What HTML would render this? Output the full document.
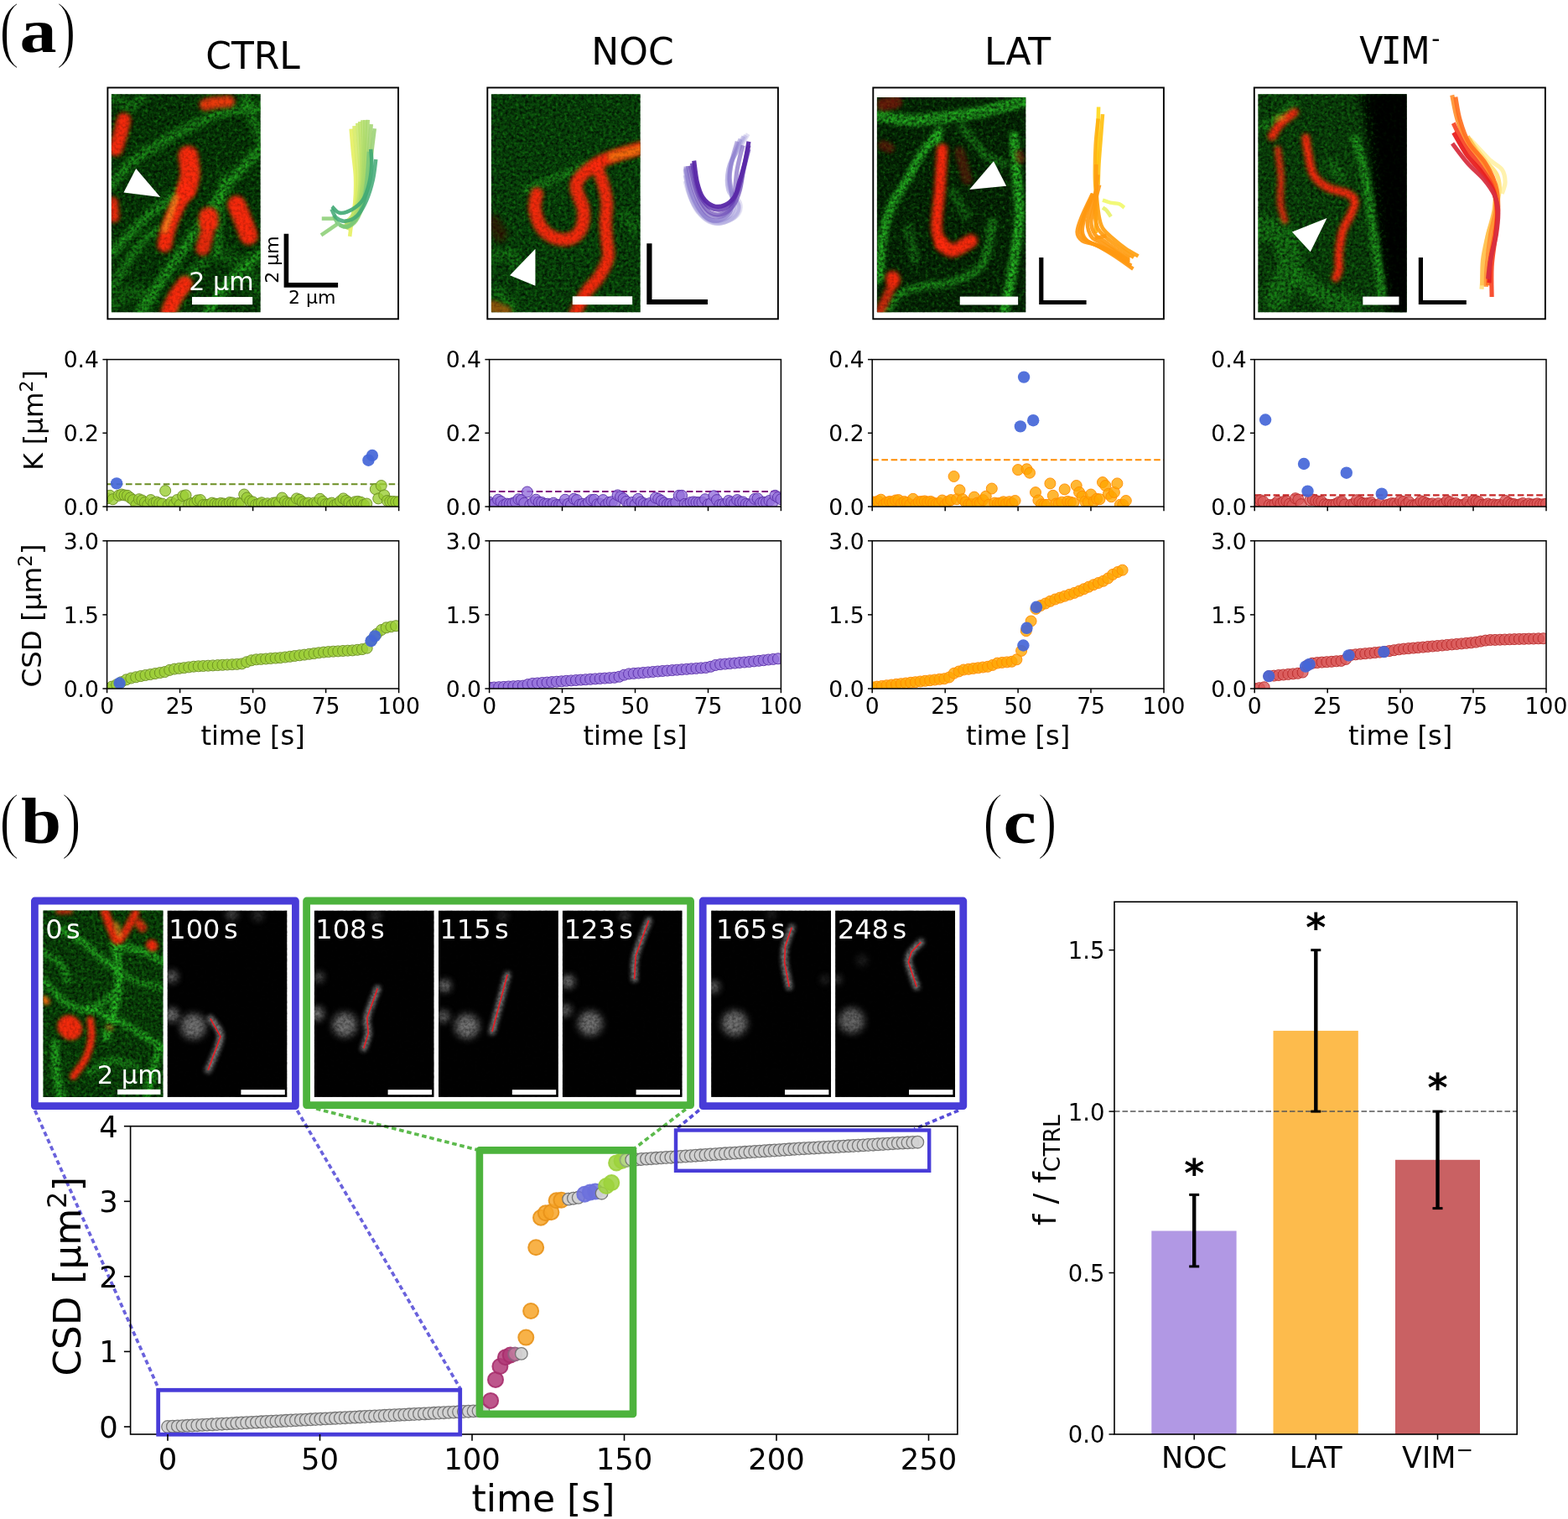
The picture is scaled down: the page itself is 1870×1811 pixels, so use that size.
<!DOCTYPE html>
<html lang="en"><head><meta charset="utf-8"><title>Figure</title>
<style>
html,body{margin:0;padding:0;background:#fff;}
body{width:1870px;height:1811px;overflow:hidden;}
svg{display:block;font-family:"DejaVu Sans", "Liberation Sans", sans-serif;}
</style></head><body>
<svg width="1870" height="1811" viewBox="0 0 1870 1811">
<rect width="1870" height="1811" fill="#fff"/>
<defs>
<filter id="bl1" filterUnits="userSpaceOnUse" x="-300" y="-300" width="1900" height="2500"><feGaussianBlur stdDeviation="16"/></filter>
<filter id="bl2" filterUnits="userSpaceOnUse" x="-300" y="-300" width="1900" height="2500"><feGaussianBlur stdDeviation="14"/></filter>
<filter id="bl3" filterUnits="userSpaceOnUse" x="-300" y="-300" width="1900" height="2500"><feGaussianBlur stdDeviation="22"/></filter>
<filter id="bl0" filterUnits="userSpaceOnUse" x="-300" y="-300" width="1900" height="2500"><feGaussianBlur stdDeviation="5"/></filter>
<filter id="nzD" x="0" y="0" width="100%" height="100%" color-interpolation-filters="sRGB">
<feTurbulence type="fractalNoise" baseFrequency="0.3" numOctaves="2" seed="11"/>
<feColorMatrix type="matrix" values="0 0 0 0 0  0 0 0 0 0  0 0 0 0 0  1.5 0 0 0 -0.5"/>
</filter>
<filter id="nzG" x="0" y="0" width="100%" height="100%" color-interpolation-filters="sRGB">
<feTurbulence type="fractalNoise" baseFrequency="0.26" numOctaves="2" seed="5"/>
<feColorMatrix type="matrix" values="0 0 0 0 0.16  0 0 0 0 0.8  0 0 0 0 0.12  0 2.4 0 0 -1.2"/>
</filter>
<filter id="nzW" x="0" y="0" width="100%" height="100%" color-interpolation-filters="sRGB">
<feTurbulence type="fractalNoise" baseFrequency="0.3" numOctaves="2" seed="23"/>
<feColorMatrix type="matrix" values="0 0 0 0 0  0 0 0 0 0  0 0 0 0 0  2.4 0 0 0 -0.95"/>
</filter>
<filter id="gbl3" filterUnits="userSpaceOnUse" x="0" y="1050" width="1200" height="300"><feGaussianBlur stdDeviation="2.6"/></filter>
<filter id="gbl" filterUnits="userSpaceOnUse" x="0" y="1050" width="1200" height="300"><feGaussianBlur stdDeviation="4"/></filter>
<filter id="nzWh" x="0" y="0" width="100%" height="100%" color-interpolation-filters="sRGB">
<feTurbulence type="fractalNoise" baseFrequency="0.6" numOctaves="2" seed="41"/>
<feColorMatrix type="matrix" values="0 0 0 0 0.6  0 0 0 0 0.6  0 0 0 0 0.6  0 2.2 0 0 -1.18"/>
</filter>
</defs>
<g font-family='"Liberation Serif", "DejaVu Serif", serif'>
<text transform="matrix(0.7412 0 0 0.8956 -1.34 64.39)" font-size="100" stroke="#fff" stroke-width="2.6">(</text>
<text transform="matrix(0.8813 0 0 0.7495 23.56 61.93)" font-size="100" font-weight="bold">a</text>
<text transform="matrix(0.7192 0 0 0.8956 66.94 64.39)" font-size="100" stroke="#fff" stroke-width="2.6">)</text>
<text transform="matrix(0.7412 0 0 0.8922 -1.34 1007.36)" font-size="100" stroke="#fff" stroke-width="2.6">(</text>
<text transform="matrix(0.8660 0 0 0.7800 24.90 1005.02)" font-size="100" font-weight="bold">b</text>
<text transform="matrix(0.7269 0 0 0.8922 73.12 1007.36)" font-size="100" stroke="#fff" stroke-width="2.6">)</text>
<text transform="matrix(0.7451 0 0 0.8922 1171.85 1007.36)" font-size="100" stroke="#fff" stroke-width="2.6">(</text>
<text transform="matrix(0.8883 0 0 0.7479 1196.59 1005.05)" font-size="100" font-weight="bold">c</text>
<text transform="matrix(0.7192 0 0 0.8922 1236.94 1007.36)" font-size="100" stroke="#fff" stroke-width="2.6">)</text>
</g>
<text x="301.50" y="82.20" font-size="44" text-anchor="middle" fill="#000">CTRL</text>
<text x="754.50" y="76.80" font-size="44" text-anchor="middle" fill="#000">NOC</text>
<text x="1213.50" y="76.80" font-size="44" text-anchor="middle" fill="#000">LAT</text>
<text transform="translate(1621.3 75.5) scale(0.93 1)" font-size="44" text-anchor="start">V<tspan font-family='"DejaVu Sans Mono", monospace' dx="-2.5">I</tspan><tspan dx="-1.5">M</tspan><tspan dy="-19.5" font-size="30" dx="2">-</tspan></text>
<rect x="128.4" y="104.5" width="346.6" height="275.8" fill="#fff" stroke="#000" stroke-width="1.9"/>
<rect x="581.3" y="104.5" width="346.6" height="275.8" fill="#fff" stroke="#000" stroke-width="1.9"/>
<rect x="1041.3" y="104.5" width="346.6" height="275.8" fill="#fff" stroke="#000" stroke-width="1.9"/>
<rect x="1495.8" y="104.5" width="347.1" height="275.8" fill="#fff" stroke="#000" stroke-width="1.9"/>
<clipPath id="mca0"><rect x="132.9" y="112.2" width="177.7" height="260.1"/></clipPath>
<g clip-path="url(#mca0)">
<rect x="131.9" y="111.2" width="179.7" height="262.1" fill="#084008"/>
<g transform="translate(125 105) scale(0.15186)" fill="none" stroke-linecap="round" stroke-linejoin="round">

<path d="M52,1300 C98.3,1251.7 245.3,1088.3 330,1010 C414.7,931.7 498.3,891.7 560,830 C621.7,768.3 676.7,671.7 700,640" stroke="#25b020" stroke-width="70" opacity="0.85" filter="url(#bl3)"/>
<path d="M270,1770 C311.7,1708.3 448.3,1503.3 520,1400 C591.7,1296.7 636.7,1241.7 700,1150 C763.3,1058.3 848.3,925.0 900,850 C951.7,775.0 955.0,763.3 1010,700 C1065.0,636.7 1193.3,508.3 1230,470" stroke="#25b020" stroke-width="75" opacity="0.9" filter="url(#bl3)"/>
<path d="M1230,150 C1175.0,158.3 1001.7,170.0 900,200 C798.3,230.0 730.0,270.0 620,330 C510.0,390.0 334.7,488.3 240,560 C145.3,631.7 83.3,726.7 52,760" stroke="#25b020" stroke-width="75" opacity="0.75" filter="url(#bl3)"/>
<path d="M1230,1290 C1191.7,1325.0 1071.7,1420.0 1000,1500 C928.3,1580.0 833.3,1725.0 800,1770" stroke="#25b020" stroke-width="75" opacity="0.9" filter="url(#bl3)"/>
<path d="M60,1560 C93.3,1508.3 200.0,1326.7 260,1250 C320.0,1173.3 393.3,1125.0 420,1100" stroke="#25b020" stroke-width="65" opacity="0.7" filter="url(#bl3)"/>
<path d="M940,700 C933.3,750.0 910.0,900.0 900,1000 C890.0,1100.0 883.3,1250.0 880,1300" stroke="#25b020" stroke-width="65" opacity="0.65" filter="url(#bl3)"/>
<path d="M1100,60 C1113.3,100.0 1158.3,240.0 1180,300 C1201.7,360.0 1221.7,400.0 1230,420" stroke="#25b020" stroke-width="75" opacity="0.6" filter="url(#bl3)"/>
<path d="M60,60 C83.3,75.0 160.0,150.0 200,150 C240.0,150.0 283.3,75.0 300,60" stroke="#25b020" stroke-width="70" opacity="0.55" filter="url(#bl3)"/>
<path d="M540,1770 C556.7,1725.0 596.7,1570.0 640,1500 C683.3,1430.0 773.3,1375.0 800,1350" stroke="#25b020" stroke-width="65" opacity="0.6" filter="url(#bl3)"/>
<path d="M60,1700 C83.3,1683.3 151.7,1608.3 200,1600 C248.3,1591.7 325.0,1641.7 350,1650" stroke="#25b020" stroke-width="120" opacity="0.35" filter="url(#bl3)"/>
<path d="M900,1300 C933.3,1316.7 1050.0,1350.0 1100,1400 C1150.0,1450.0 1183.3,1566.7 1200,1600" stroke="#25b020" stroke-width="120" opacity="0.3" filter="url(#bl3)"/>
</g>
<rect x="132.9" y="112.2" width="177.7" height="260.1" filter="url(#nzD)"/>
<rect x="132.9" y="112.2" width="177.7" height="260.1" filter="url(#nzG)" opacity="0.4"/>
<g transform="translate(125 105) scale(0.15186)" fill="none" stroke-linecap="round" stroke-linejoin="round">
<path d="M790,130 C805.0,127.0 849.2,116.2 880,112 C910.8,107.8 959.2,106.2 975,105" stroke="#fa3a10" stroke-width="92" opacity="0.92" filter="url(#bl1)"/>
<path d="M150,250 C145.0,270.0 130.8,331.7 120,370 C109.2,408.3 90.8,461.7 85,480" stroke="#ff2a08" stroke-width="110" opacity="0.95" filter="url(#bl1)"/>
<path d="M655,530 C657.5,555.0 672.5,635.0 670,680 C667.5,725.0 645.0,780.0 640,800" stroke="#ff2a08" stroke-width="155" opacity="0.97" filter="url(#bl1)"/>
<path d="M640,800 C626.7,825.0 583.3,900.0 560,950 C536.7,1000.0 515.0,1053.3 500,1100 C485.0,1146.7 475.0,1208.3 470,1230" stroke="#ff2a08" stroke-width="115" opacity="0.97" filter="url(#bl1)"/>
<path d="M560,860 L470,1120" stroke="#f0a020" stroke-width="40" opacity="0.8" filter="url(#bl1)"/>
<path d="M60,900 L70,1010" stroke="#ff2a08" stroke-width="90" opacity="0.9" filter="url(#bl1)"/>
<path d="M815,1010 L815,1060" stroke="#ff2a08" stroke-width="150" opacity="0.97" filter="url(#bl1)"/>
<path d="M800,1150 L770,1260" stroke="#ff2a08" stroke-width="110" opacity="0.9" filter="url(#bl1)"/>
<path d="M1035,915 C1044.2,937.5 1074.2,1009.2 1090,1050 C1105.8,1090.8 1123.3,1141.7 1130,1160" stroke="#ff2a08" stroke-width="142" opacity="0.97" filter="url(#bl1)"/>
<path d="M630,1535 C617.5,1552.5 576.7,1602.5 555,1640 C533.3,1677.5 509.2,1740.0 500,1760" stroke="#ff2a08" stroke-width="120" opacity="0.97" filter="url(#bl1)"/>
</g>
<rect x="132.9" y="112.2" width="177.7" height="260.1" filter="url(#nzW)" opacity="0.22"/>
</g>
<g transform="translate(125 105) scale(0.15186)" fill="#fff">
<polygon points="245,632 148,820 436,856"/>
<rect x="685" y="1640" width="475" height="60"/>
</g>
<text x="264" y="345.7" font-size="30.2" fill="#fff" text-anchor="middle">2 µm</text>
<clipPath id="mca1"><rect x="585.9" y="112.2" width="177.7" height="260.1"/></clipPath>
<g clip-path="url(#mca1)">
<rect x="584.9" y="111.2" width="179.7" height="262.1" fill="#0a4c0c"/>
<g transform="translate(578 105) scale(0.15186)" fill="none" stroke-linecap="round" stroke-linejoin="round">

<path d="M330,800 C355.0,790.0 428.3,761.7 480,740 C531.7,718.3 586.7,693.3 640,670 C693.3,646.7 773.3,611.7 800,600" stroke="#25b020" stroke-width="70" opacity="0.55" filter="url(#bl2)"/>
<path d="M60,1330 C83.3,1325.0 166.7,1288.3 200,1300 C233.3,1311.7 250.0,1383.3 260,1400" stroke="#25b020" stroke-width="90" opacity="0.4" filter="url(#bl3)"/>
<path d="M1100,1000 L1180,1100" stroke="#25b020" stroke-width="90" opacity="0.35" filter="url(#bl3)"/>
<path d="M100,1600 L220,1720" stroke="#25b020" stroke-width="90" opacity="0.45" filter="url(#bl3)"/>
</g>
<rect x="585.9" y="112.2" width="177.7" height="260.1" filter="url(#nzD)"/>
<rect x="585.9" y="112.2" width="177.7" height="260.1" filter="url(#nzG)" opacity="0.4"/>
<g transform="translate(578 105) scale(0.15186)" fill="none" stroke-linecap="round" stroke-linejoin="round">
<path d="M410,830 C407.5,850.0 388.3,905.0 395,950 C401.7,995.0 422.5,1061.7 450,1100 C477.5,1138.3 521.7,1166.7 560,1180 C598.3,1193.3 646.7,1193.3 680,1180 C713.3,1166.7 744.2,1138.3 760,1100 C775.8,1061.7 781.7,1001.7 775,950 C768.3,898.3 724.2,831.7 720,790 C715.8,748.3 725.0,731.7 750,700 C775.0,668.3 828.3,626.7 870,600 C911.7,573.3 940.0,561.7 1000,540 C1060.0,518.3 1191.7,481.7 1230,470" stroke="#ff2a08" stroke-width="100" opacity="0.95" filter="url(#bl1)"/>
<path d="M880,620 C888.3,641.7 916.7,703.3 930,750 C943.3,796.7 956.7,850.0 960,900 C963.3,950.0 950.0,1000.0 950,1050 C950.0,1100.0 956.7,1153.3 960,1200 C963.3,1246.7 980.0,1283.3 970,1330 C960.0,1376.7 928.3,1435.0 900,1480 C871.7,1525.0 831.7,1551.7 800,1600 C768.3,1648.3 725.0,1741.7 710,1770" stroke="#ff2a08" stroke-width="95" opacity="0.95" filter="url(#bl1)"/>
<path d="M1000,540 L1230,480" stroke="#f0a010" stroke-width="70" opacity="0.55" filter="url(#bl1)"/>
<path d="M60,1720 L160,1760" stroke="#c06010" stroke-width="110" opacity="0.7" filter="url(#bl2)"/>
<path d="M60,1050 L120,1150" stroke="#401000" stroke-width="120" opacity="0.6" filter="url(#bl3)"/>
</g>
<rect x="585.9" y="112.2" width="177.7" height="260.1" filter="url(#nzW)" opacity="0.22"/>
</g>
<g transform="translate(578 105) scale(0.15186)" fill="#fff">
<polygon points="398,1262 198,1470 398,1552"/>
<rect x="690" y="1635" width="470" height="65"/>
</g>
<clipPath id="mca2"><rect x="1045.9" y="115.9" width="177.4" height="256.4"/></clipPath>
<g clip-path="url(#mca2)">
<rect x="1044.9" y="114.9" width="179.4" height="258.4" fill="#062c06"/>
<g transform="translate(1038 105) scale(0.15186)" fill="none" stroke-linecap="round" stroke-linejoin="round">

<path d="M520,370 C500.0,395.0 436.7,465.0 400,520 C363.3,575.0 340.0,630.0 300,700 C260.0,770.0 194.2,856.7 160,940 C125.8,1023.3 110.0,1106.7 95,1200 C80.0,1293.3 74.2,1450.0 70,1500" stroke="#2cc428" stroke-width="70" opacity="0.9" filter="url(#bl2)"/>
<path d="M52,215 C85.0,220.8 192.0,244.2 250,250 C308.0,255.8 333.3,255.0 400,250 C466.7,245.0 566.7,231.7 650,220 C733.3,208.3 803.3,200.0 900,180 C996.7,160.0 1175.0,113.3 1230,100" stroke="#2cc428" stroke-width="95" opacity="0.8" filter="url(#bl2)"/>
<path d="M1130,380 C1133.3,433.3 1143.3,596.7 1150,700 C1156.7,803.3 1175.0,883.3 1170,1000 C1165.0,1116.7 1140.0,1271.7 1120,1400 C1100.0,1528.3 1061.7,1708.3 1050,1770" stroke="#2cc428" stroke-width="75" opacity="0.95" filter="url(#bl2)"/>
<path d="M960,1050 C946.7,1105.0 931.7,1301.7 880,1380 C828.3,1458.3 730.0,1490.0 650,1520 C570.0,1550.0 470.0,1543.3 400,1560 C330.0,1576.7 276.7,1585.0 230,1620 C183.3,1655.0 138.3,1745.0 120,1770" stroke="#2cc428" stroke-width="70" opacity="0.6" filter="url(#bl2)"/>
<path d="M540,330 L520,420" stroke="#2cc428" stroke-width="70" opacity="0.8" filter="url(#bl2)"/>
<path d="M720,300 C750.0,336.7 845.0,470.0 900,520 C955.0,570.0 1025.0,586.7 1050,600" stroke="#2cc428" stroke-width="70" opacity="0.45" filter="url(#bl2)"/>
<path d="M650,820 L750,1000" stroke="#2cc428" stroke-width="80" opacity="0.35" filter="url(#bl2)"/>
<path d="M300,1100 L350,1350" stroke="#2cc428" stroke-width="80" opacity="0.35" filter="url(#bl2)"/>
</g>
<rect x="1045.9" y="115.9" width="177.4" height="256.4" filter="url(#nzD)"/>
<rect x="1045.9" y="115.9" width="177.4" height="256.4" filter="url(#nzG)" opacity="0.4"/>
<g transform="translate(1038 105) scale(0.15186)" fill="none" stroke-linecap="round" stroke-linejoin="round">
<path d="M565,480 C561.7,533.3 552.5,696.7 545,800 C537.5,903.3 517.5,1029.2 520,1100 C522.5,1170.8 553.3,1204.2 560,1225" stroke="#ff2a08" stroke-width="85" opacity="0.97" filter="url(#bl1)"/>
<path d="M560,1225 C575.0,1233.3 611.7,1279.2 650,1275 C688.3,1270.8 766.7,1212.5 790,1200" stroke="#ff2a08" stroke-width="105" opacity="0.97" filter="url(#bl1)"/>
<path d="M175,1490 L180,1510" stroke="#ff2a08" stroke-width="110" opacity="0.95" filter="url(#bl1)"/>
<path d="M170,1550 C160.0,1571.7 126.7,1643.3 110,1680 C93.3,1716.7 76.7,1755.0 70,1770" stroke="#ff2a08" stroke-width="70" opacity="0.8" filter="url(#bl1)"/>
<path d="M100,130 L200,110" stroke="#a01808" stroke-width="100" opacity="0.6" filter="url(#bl2)"/>
<path d="M100,450 L150,470" stroke="#a01808" stroke-width="80" opacity="0.45" filter="url(#bl2)"/>
<path d="M700,500 L760,720" stroke="#a01808" stroke-width="80" opacity="0.4" filter="url(#bl2)"/>
<path d="M1170,520 L1180,560" stroke="#a01808" stroke-width="70" opacity="0.5" filter="url(#bl2)"/>
</g>
<rect x="1045.9" y="115.9" width="177.4" height="256.4" filter="url(#nzW)" opacity="0.22"/>
</g>
<g transform="translate(1038 105) scale(0.15186)" fill="#fff">
<polygon points="968,575 778,797 1068,768"/>
<rect x="703" y="1637" width="457" height="65"/>
</g>
<clipPath id="mca3"><rect x="1500.4" y="112.2" width="177.2" height="260.1"/></clipPath>
<g clip-path="url(#mca3)">
<rect x="1499.4" y="111.2" width="179.2" height="262.1" fill="#0c4a0c"/>
<g transform="translate(1492 105) scale(0.15186)" fill="none" stroke-linecap="round" stroke-linejoin="round">
<path d="M850,40 L920,500 L960,1000 L1010,1400 L1060,1770 L1240,1770 L1240,40 Z" fill="#020a02" stroke="none" filter="url(#bl3)"/>
<path d="M820,400 C833.3,450.0 878.3,591.7 900,700 C921.7,808.3 933.3,933.3 950,1050 C966.7,1166.7 986.7,1305.0 1000,1400 C1013.3,1495.0 1025.0,1583.3 1030,1620" stroke="#2cc428" stroke-width="70" opacity="0.7" filter="url(#bl2)"/>
<path d="M60,1100 C91.7,1108.3 210.0,1100.0 250,1150 C290.0,1200.0 308.3,1316.7 300,1400 C291.7,1483.3 216.7,1608.3 200,1650" stroke="#2cc428" stroke-width="200" opacity="0.4" filter="url(#bl3)"/>
<path d="M400,1500 C433.3,1525.0 533.3,1616.7 600,1650 C666.7,1683.3 766.7,1691.7 800,1700" stroke="#2cc428" stroke-width="150" opacity="0.4" filter="url(#bl3)"/>
<path d="M100,300 C116.7,291.7 161.7,278.3 200,250 C238.3,221.7 308.3,150.0 330,130" stroke="#2cc428" stroke-width="70" opacity="0.5" filter="url(#bl2)"/>
<path d="M640,600 L700,700" stroke="#2cc428" stroke-width="100" opacity="0.3" filter="url(#bl3)"/>
</g>
<rect x="1500.4" y="112.2" width="177.2" height="260.1" filter="url(#nzD)"/>
<rect x="1500.4" y="112.2" width="177.2" height="260.1" filter="url(#nzG)" opacity="0.4"/>
<g transform="translate(1492 105) scale(0.15186)" fill="none" stroke-linecap="round" stroke-linejoin="round">
<path d="M340,190 C321.7,205.0 259.2,248.3 230,280 C200.8,311.7 175.8,363.3 165,380" stroke="#ff2a08" stroke-width="65" opacity="0.95" filter="url(#bl1)"/>
<path d="M200,240 L260,230" stroke="#f0c020" stroke-width="35" opacity="0.6" filter="url(#bl1)"/>
<path d="M210,480 C214.2,516.7 231.7,630.0 235,700 C238.3,770.0 225.0,843.3 230,900 C235.0,956.7 259.2,1016.7 265,1040" stroke="#ff2a08" stroke-width="50" opacity="0.85" filter="url(#bl1)"/>
<path d="M430,390 C433.3,411.7 440.0,471.7 450,520 C460.0,568.3 465.0,636.7 490,680 C515.0,723.3 555.0,755.0 600,780 C645.0,805.0 724.2,811.7 760,830 C795.8,848.3 811.7,861.7 815,890 C818.3,918.3 795.8,961.7 780,1000 C764.2,1038.3 735.0,1070.0 720,1120 C705.0,1170.0 695.0,1250.0 690,1300 C685.0,1350.0 694.2,1388.3 690,1420 C685.8,1451.7 669.2,1478.3 665,1490" stroke="#ff2a08" stroke-width="62" opacity="0.97" filter="url(#bl1)"/>
</g>
<rect x="1500.4" y="112.2" width="177.2" height="260.1" filter="url(#nzW)" opacity="0.22"/>
<g transform="translate(1492 105) scale(0.15186)" fill="none" stroke-linecap="round" stroke-linejoin="round">
<path d="M930,40 L985,500 L1030,1000 L1075,1400 L1120,1770 L1260,1770 L1260,40 Z" fill="#010301" stroke="none" opacity="0.84" filter="url(#bl3)"/>
</g>
</g>
<g transform="translate(1492 105) scale(0.15186)" fill="#fff">
<polygon points="596,1020 322,1130 466,1285"/>
<rect x="878" y="1637" width="284" height="65"/>
</g>
<g transform="translate(320 105) scale(0.15180)" fill="none" stroke-width="30" stroke-linejoin="round">
<path d="M650,320 C652.5,350.0 659.2,436.7 665,500 C670.8,563.3 682.5,633.3 685,700 C687.5,766.7 685.0,841.7 680,900 C675.0,958.3 661.7,1005.8 655,1050 C648.3,1094.2 642.5,1145.8 640,1165" stroke="#e6f060" stroke-opacity="0.90"/>
<path d="M675.0,297.5 C676.0,310.1 678.8,348.0 680.7,373.2 C682.6,398.4 684.4,423.6 686.4,448.8 C688.4,474.0 690.6,499.2 692.5,524.4 C694.4,549.6 696.0,574.9 697.7,600.1 C699.4,625.3 701.9,650.5 702.5,675.7 C703.1,700.9 702.4,726.2 701.5,751.5 C700.6,776.8 698.9,802.0 697.0,827.2 C695.1,852.4 694.2,877.9 690.0,902.7 C685.8,927.5 678.4,951.8 671.9,976.0 C665.4,1000.2 659.9,1025.2 651.3,1047.9 C642.6,1070.7 625.2,1101.7 620.0,1112.5" stroke="#d7eb64" stroke-opacity="0.88"/>
<path d="M700,275 C702.5,312.5 711.3,429.2 715,500 C718.7,570.8 723.7,636.7 722,700 C720.3,763.3 715.3,830.0 705,880 C694.7,930.0 677.5,970.0 660,1000 C642.5,1030.0 610.0,1050.0 600,1060" stroke="#c8e668" stroke-opacity="0.85"/>
<path d="M720.0,263.5 C720.5,276.2 722.2,314.4 723.3,339.9 C724.4,365.4 725.4,390.9 726.5,416.3 C727.6,441.8 729.1,467.1 729.8,492.6 C730.5,518.1 730.3,543.6 730.5,569.1 C730.7,594.6 731.0,620.0 730.9,645.5 C730.8,671.0 731.5,696.5 729.8,721.9 C728.1,747.3 723.9,772.5 720.9,797.8 C717.9,823.1 717.3,849.0 712.0,873.7 C706.7,898.5 697.7,922.6 688.9,946.3 C680.1,970.0 673.1,995.3 659.1,1015.9 C645.1,1036.5 614.0,1061.0 605.0,1070.0" stroke="#bee269" stroke-opacity="0.85"/>
<path d="M740,252 C740.8,293.3 745.0,422.0 745,500 C745.0,578.0 745.0,653.3 740,720 C735.0,786.7 726.7,850.0 715,900 C703.3,950.0 687.5,990.0 670,1020 C652.5,1050.0 620.0,1070.0 610,1080" stroke="#b4de6a" stroke-opacity="0.85"/>
<path d="M761.0,251.0 C760.8,264.3 760.2,304.2 759.8,330.8 C759.4,357.4 759.1,383.9 758.7,410.5 C758.3,437.1 758.2,463.7 757.5,490.3 C756.8,516.9 755.4,543.4 754.2,570.0 C753.1,596.6 752.0,623.2 750.6,649.7 C749.2,676.2 748.8,702.9 746.1,729.3 C743.4,755.7 738.2,781.9 734.3,808.2 C730.4,834.5 728.5,861.4 722.6,887.2 C716.7,913.0 708.1,938.3 699.1,963.1 C690.1,987.9 683.4,1014.8 668.5,1035.9 C653.6,1057.1 619.8,1081.0 610.0,1090.0" stroke="#aedb6a" stroke-opacity="0.85"/>
<path d="M782,250 C780.0,291.7 774.5,421.7 770,500 C765.5,578.3 762.5,651.7 755,720 C747.5,788.3 737.5,856.7 725,910 C712.5,963.3 699.2,1008.3 680,1040 C660.8,1071.7 621.7,1090.0 610,1100" stroke="#a8d86a" stroke-opacity="0.85"/>
<path d="M808.5,284.0 C807.4,297.4 803.9,337.7 801.6,364.6 C799.3,391.5 796.9,418.4 794.7,445.3 C792.5,472.2 790.5,499.1 788.2,526.0 C785.9,552.9 783.5,579.8 780.9,606.6 C778.3,633.5 776.0,660.4 772.8,687.1 C769.5,713.9 765.7,740.5 761.4,767.1 C757.1,793.7 752.9,820.5 747.2,846.8 C741.5,873.1 735.2,899.2 727.2,924.8 C719.2,950.4 711.5,977.5 699.2,1000.5 C686.9,1023.5 672.5,1048.6 653.5,1063.1 C634.5,1077.6 596.4,1083.4 585.0,1087.5" stroke="#a0d46d" stroke-opacity="0.85"/>
<path d="M835,318 C831.7,345.0 822.5,416.3 815,480 C807.5,543.7 800.8,630.0 790,700 C779.2,770.0 766.7,843.3 750,900 C733.3,956.7 711.7,1008.3 690,1040 C668.3,1071.7 641.7,1084.2 620,1090 C598.3,1095.8 570.0,1077.5 560,1075" stroke="#98d070" stroke-opacity="0.85"/>
<path d="M420,1025 L530,1025" stroke="#8fd07a" stroke-opacity="0.90"/>
<path d="M415,1155 L540,1070" stroke="#8fd07a" stroke-opacity="0.90"/>
<path d="M790,500 C787.5,536.7 782.5,653.3 775,720 C767.5,786.7 759.2,848.3 745,900 C730.8,951.7 712.5,998.3 690,1030 C667.5,1061.7 634.2,1085.0 610,1090 C585.8,1095.0 560.8,1075.0 545,1060 C529.2,1045.0 520.0,1010.0 515,1000" stroke="#78c878" stroke-opacity="0.85"/>
<path d="M805,480 C806.2,500.0 814.2,555.0 812,600 C809.8,645.0 803.7,703.3 792,750 C780.3,796.7 764.8,845.8 742,880 C719.2,914.2 685.3,938.3 655,955 C624.7,971.7 585.8,984.2 560,980 C534.2,975.8 510.0,938.3 500,930" stroke="#3fa874" stroke-opacity="0.90"/>
<path d="M845,560 C841.2,586.7 834.2,666.7 822,720 C809.8,773.3 792.3,833.3 772,880 C751.7,926.7 727.8,972.5 700,1000 C672.2,1027.5 632.5,1041.7 605,1045 C577.5,1048.3 553.0,1035.8 535,1020 C517.0,1004.2 503.3,961.7 497,950" stroke="#3fa874" stroke-opacity="0.85"/>
</g>
<path d="M341.4,281.6 V339.9 H400.3" fill="none" stroke="#000" stroke-width="5.6" stroke-linecap="square" stroke-linejoin="miter"/>
<text x="372.3" y="362.4" font-size="22" text-anchor="middle">2 µm</text>
<text transform="translate(331.6 309.5) rotate(-90)" font-size="22" text-anchor="middle">2 µm</text>
<g transform="translate(770 105) scale(0.15180)" fill="none" stroke-width="34" stroke-linejoin="round">
<path d="M805,360 C794.2,378.3 764.2,430.0 740,470 C715.8,510.0 675.0,548.3 660,600 C645.0,651.7 636.7,730.0 650,780 C663.3,830.0 728.3,863.3 740,900 C751.7,936.7 743.3,973.3 720,1000 C696.7,1026.7 636.7,1051.7 600,1060 C563.3,1068.3 533.3,1066.7 500,1050 C466.7,1033.3 426.7,996.7 400,960 C373.3,923.3 355.0,868.3 340,830 C325.0,791.7 315.0,746.7 310,730" stroke="#c8c4e8" stroke-opacity="0.50"/>
<path d="M787.5,370.0 C777.8,387.9 748.2,441.5 729.1,477.4 C710.0,513.3 685.5,547.9 672.8,585.6 C660.1,623.3 653.1,664.5 652.7,703.4 C652.3,742.3 657.6,783.1 670.3,819.3 C682.9,855.5 727.2,887.4 728.6,920.8 C730.0,954.2 705.6,997.4 678.5,1019.6 C651.4,1041.8 602.6,1055.6 566.0,1053.9 C529.4,1052.2 489.5,1032.4 458.9,1009.6 C428.3,986.8 402.4,951.2 382.4,916.9 C362.3,882.5 350.7,842.1 338.6,803.5 C326.5,764.9 314.8,704.8 310.0,685.0" stroke="#b8b2e2" stroke-opacity="0.53"/>
<path d="M770,380 C760.0,400.0 730.0,456.7 710,500 C690.0,543.3 660.0,590.0 650,640 C640.0,690.0 636.7,753.3 650,800 C663.3,846.7 721.7,885.0 730,920 C738.3,955.0 723.3,986.7 700,1010 C676.7,1033.3 625.0,1055.0 590,1060 C555.0,1065.0 521.7,1058.3 490,1040 C458.3,1021.7 425.0,986.7 400,950 C375.0,913.3 355.0,871.7 340,820 C325.0,768.3 315.0,670.0 310,640" stroke="#a8a0dc" stroke-opacity="0.55"/>
<path d="M745.0,400.0 C737.9,418.1 715.2,471.9 702.2,508.5 C689.2,545.1 674.7,581.8 667.3,619.4 C659.9,657.0 656.0,696.5 657.8,734.4 C659.6,772.3 672.4,810.3 678.1,847.0 C683.8,883.7 702.5,923.7 692.0,954.6 C681.5,985.5 646.6,1019.4 615.4,1032.5 C584.2,1045.6 537.0,1045.7 504.7,1033.0 C472.4,1020.3 444.2,986.2 421.3,956.4 C398.4,926.6 381.6,889.6 367.0,854.0 C352.4,818.4 342.6,780.5 333.5,742.7 C324.4,705.0 316.0,646.7 312.5,627.5" stroke="#988cd4" stroke-opacity="0.57"/>
<path d="M720,420 C713.3,443.3 690.0,513.3 680,560 C670.0,606.7 660.0,650.0 660,700 C660.0,750.0 680.0,813.3 680,860 C680.0,906.7 678.3,950.0 660,980 C641.7,1010.0 600.0,1033.3 570,1040 C540.0,1046.7 506.7,1038.3 480,1020 C453.3,1001.7 431.7,968.3 410,930 C388.3,891.7 365.8,842.5 350,790 C334.2,737.5 320.8,644.2 315,615" stroke="#8878cc" stroke-opacity="0.60"/>
<path d="M765.0,450.0 C760.5,466.7 746.0,516.7 738.0,550.4 C730.0,584.1 722.2,618.0 716.9,652.1 C711.6,686.2 709.2,720.9 706.0,754.8 C702.8,788.7 704.5,823.1 697.6,855.7 C690.7,888.3 683.4,924.9 664.6,950.6 C645.8,976.3 614.1,1003.2 584.6,1010.0 C555.1,1016.8 514.2,1007.8 487.3,991.1 C460.4,974.4 440.4,939.2 422.9,909.7 C405.4,880.2 393.7,846.6 382.3,814.0 C370.9,781.4 362.8,747.7 354.5,714.1 C346.2,680.5 336.2,629.4 332.5,612.5" stroke="#7c64c2" stroke-opacity="0.68"/>
<path d="M810,480 C803.3,506.7 781.7,586.7 770,640 C758.3,693.3 753.3,753.3 740,800 C726.7,846.7 713.3,888.3 690,920 C666.7,951.7 630.0,980.0 600,990 C570.0,1000.0 536.7,995.0 510,980 C483.3,965.0 460.0,933.3 440,900 C420.0,866.7 405.0,828.3 390,780 C375.0,731.7 356.7,638.3 350,610" stroke="#7050b8" stroke-opacity="0.75"/>
<path d="M810.0,450.0 C806.6,465.7 796.3,512.7 789.4,544.0 C782.5,575.3 775.7,606.5 768.6,637.8 C761.5,669.0 755.2,700.6 746.7,731.5 C738.2,762.4 730.3,794.2 717.8,823.0 C705.3,851.8 692.4,882.2 671.8,904.2 C651.1,926.2 621.8,949.3 593.9,954.8 C566.0,960.3 529.8,951.9 504.1,937.3 C478.5,922.7 456.6,893.9 440.0,867.3 C423.4,840.7 414.1,808.4 404.6,777.9 C395.1,747.4 389.7,715.7 383.1,684.4 C376.5,653.1 368.0,605.7 365.0,590.0" stroke="#653cb0" stroke-opacity="0.85"/>
<path d="M810,420 C805.0,446.7 792.5,526.7 780,580 C767.5,633.3 748.3,695.0 735,740 C721.7,785.0 719.2,820.0 700,850 C680.8,880.0 648.3,907.5 620,920 C591.7,932.5 558.3,935.0 530,925 C501.7,915.0 470.8,890.8 450,860 C429.2,829.2 416.7,788.3 405,740 C393.3,691.7 384.2,598.3 380,570" stroke="#5a28a8" stroke-opacity="0.95"/>
</g>
<path d="M774.4,293.3 V360.0 H840.9" fill="none" stroke="#000" stroke-width="6.2" stroke-linecap="square" stroke-linejoin="miter"/>
<g transform="translate(1230 105) scale(0.15180)" fill="none" stroke-width="30" stroke-linejoin="round">
<path d="M560,880 C570.0,883.3 598.3,895.0 620,900 C641.7,905.0 671.7,903.3 690,910 C708.3,916.7 723.3,935.0 730,940" stroke="#f0f860" stroke-opacity="0.85"/>
<path d="M560,940 C565.0,943.3 579.2,948.3 590,960 C600.8,971.7 619.2,1001.7 625,1010" stroke="#e6f060" stroke-opacity="0.85"/>
<path d="M528,148 C526.7,190.0 522.2,324.7 520,400 C517.8,475.3 515.8,566.7 515,600" stroke="#ffd818" stroke-opacity="0.90"/>
<path d="M560,205 C557.5,237.5 550.0,334.2 545,400 C540.0,465.8 533.3,540.0 530,600 C526.7,660.0 525.8,733.3 525,760" stroke="#ffc010" stroke-opacity="0.92"/>
<path d="M525,240 C521.7,275.0 509.2,373.3 505,450 C500.8,526.7 499.2,625.0 500,700 C500.8,775.0 509.2,826.7 510,900 C510.8,973.3 505.8,1100.0 505,1140" stroke="#ffb010" stroke-opacity="0.90"/>
<path d="M510,600 C510.0,633.3 506.7,733.3 510,800 C513.3,866.7 521.7,950.0 530,1000 C538.3,1050.0 541.7,1070.0 560,1100 C578.3,1130.0 610.0,1153.3 640,1180 C670.0,1206.7 706.7,1236.7 740,1260 C773.3,1283.3 823.3,1310.0 840,1320" stroke="#ffa010" stroke-opacity="0.92"/>
<path d="M522.5,680.0 C521.1,691.9 517.1,727.7 514.4,751.5 C511.7,775.3 508.6,799.1 506.4,823.0 C504.2,846.9 502.6,870.8 501.3,894.7 C500.0,918.6 498.1,942.6 498.7,966.4 C499.3,990.2 500.4,1014.2 504.7,1037.7 C509.0,1061.2 513.6,1087.1 524.7,1107.3 C535.9,1127.5 554.6,1142.6 571.6,1159.1 C588.6,1175.5 607.8,1190.8 626.6,1206.0 C645.4,1221.2 664.7,1235.9 684.2,1250.1 C703.7,1264.3 723.6,1278.1 743.7,1291.4 C763.8,1304.7 794.8,1323.6 805.0,1330.0" stroke="#ff9d10" stroke-opacity="0.92"/>
<path d="M535,760 C529.2,783.3 510.8,851.7 500,900 C489.2,948.3 470.0,1008.3 470,1050 C470.0,1091.7 483.3,1125.0 500,1150 C516.7,1175.0 540.0,1178.3 570,1200 C600.0,1221.7 646.7,1256.7 680,1280 C713.3,1303.3 755.0,1330.0 770,1340" stroke="#ff9a10" stroke-opacity="0.92"/>
<path d="M512.5,795.0 C509.0,805.8 498.5,838.1 491.5,859.6 C484.5,881.1 476.6,902.4 470.5,924.2 C464.4,946.0 459.6,968.2 454.6,990.3 C449.7,1012.4 441.6,1035.1 440.8,1057.0 C440.0,1078.9 443.2,1101.3 449.8,1121.5 C456.4,1141.7 465.8,1163.3 480.7,1178.2 C495.6,1193.1 520.0,1199.8 539.5,1211.0 C559.0,1222.2 578.5,1233.9 597.9,1245.5 C617.3,1257.1 636.7,1268.7 655.9,1280.7 C675.1,1292.8 693.9,1305.4 712.9,1317.8 C731.9,1330.2 760.5,1348.8 770.0,1355.0" stroke="#ff9910" stroke-opacity="0.92"/>
<path d="M490,830 C480.0,855.0 445.0,931.7 430,980 C415.0,1028.3 398.3,1083.3 400,1120 C401.7,1156.7 416.7,1180.0 440,1200 C463.3,1220.0 503.3,1223.3 540,1240 C576.7,1256.7 621.7,1278.3 660,1300 C698.3,1321.7 751.7,1358.3 770,1370" stroke="#ff9810" stroke-opacity="0.92"/>
<path d="M485.0,830.0 C480.1,841.3 465.2,875.3 455.3,897.9 C445.4,920.5 434.4,942.8 425.7,965.8 C417.0,988.8 409.9,1012.4 403.0,1036.1 C396.1,1059.8 383.5,1084.6 384.1,1107.7 C384.8,1130.8 393.7,1156.8 406.9,1174.5 C420.1,1192.2 442.4,1202.8 463.1,1214.1 C483.8,1225.4 509.0,1232.1 531.3,1242.6 C553.6,1253.1 575.1,1265.3 596.8,1277.1 C618.4,1288.9 640.1,1300.7 661.2,1313.5 C682.3,1326.3 702.6,1340.4 723.2,1354.0 C743.8,1367.6 774.7,1388.2 785.0,1395.0" stroke="#ff9810" stroke-opacity="0.92"/>
<path d="M480,830 C466.7,858.3 420.0,950.0 400,1000 C380.0,1050.0 360.0,1096.7 360,1130 C360.0,1163.3 376.7,1183.3 400,1200 C423.3,1216.7 460.0,1211.7 500,1230 C540.0,1248.3 590.0,1278.3 640,1310 C690.0,1341.7 773.3,1401.7 800,1420" stroke="#ff9810" stroke-opacity="0.92"/>
<path d="M590,1160 L500,1180" stroke="#ff9810" stroke-opacity="0.90"/>
</g>
<path d="M1241.8,309.5 V360.5 H1293.0" fill="none" stroke="#000" stroke-width="5.2" stroke-linecap="square" stroke-linejoin="miter"/>
<g transform="translate(1685 105) scale(0.15180)" fill="none" stroke-width="34" stroke-linejoin="round">
<path d="M450,400 C475.0,426.7 558.3,520.0 600,560 C641.7,600.0 679.2,610.0 700,640 C720.8,670.0 725.0,708.3 725,740 C725.0,771.7 704.2,815.0 700,830" stroke="#fff0a0" stroke-opacity="0.85"/>
<path d="M440,400 C463.3,430.0 543.3,533.3 580,580 C616.7,626.7 643.3,643.3 660,680 C676.7,716.7 683.3,746.7 680,800 C676.7,853.3 655.0,941.7 640,1000 C625.0,1058.3 603.3,1091.7 590,1150 C576.7,1208.3 568.3,1278.3 560,1350 C551.7,1421.7 543.3,1541.7 540,1580" stroke="#ffe078" stroke-opacity="0.90"/>
<path d="M430,380 C451.7,416.7 525.0,536.7 560,600 C595.0,663.3 626.7,701.7 640,760 C653.3,818.3 648.3,885.0 640,950 C631.7,1015.0 605.0,1083.3 590,1150 C575.0,1216.7 557.5,1283.3 550,1350 C542.5,1416.7 545.8,1516.7 545,1550" stroke="#ffc050" stroke-opacity="0.90"/>
<path d="M308,55 C315.0,87.5 329.7,185.8 350,250 C370.3,314.2 395.0,381.7 430,440 C465.0,498.3 525.0,546.7 560,600 C595.0,653.3 625.0,701.7 640,760 C655.0,818.3 655.0,885.0 650,950 C645.0,1015.0 621.7,1075.0 610,1150 C598.3,1225.0 585.8,1331.7 580,1400 C574.2,1468.3 575.8,1533.3 575,1560" stroke="#ff9030" stroke-opacity="0.92"/>
<path d="M335,70 C340.8,100.0 352.5,190.0 370,250 C387.5,310.0 406.7,373.3 440,430 C473.3,486.7 535.0,535.0 570,590 C605.0,645.0 633.3,700.0 650,760 C666.7,820.0 671.7,885.0 670,950 C668.3,1015.0 651.7,1075.0 640,1150 C628.3,1225.0 608.3,1333.3 600,1400 C591.7,1466.7 591.7,1525.0 590,1550" stroke="#ff7020" stroke-opacity="0.92"/>
<path d="M318,275 C331.7,302.5 366.3,385.8 400,440 C433.7,494.2 483.3,546.7 520,600 C556.7,653.3 596.7,701.7 620,760 C643.3,818.3 655.0,885.0 660,950 C665.0,1015.0 656.7,1075.0 650,1150 C643.3,1225.0 625.0,1318.3 620,1400 C615.0,1481.7 620.0,1600.0 620,1640" stroke="#f84828" stroke-opacity="0.95"/>
<path d="M320,350 C336.7,378.3 383.3,468.3 420,520 C456.7,571.7 505.0,613.3 540,660 C575.0,706.7 609.2,750.0 630,800 C650.8,850.0 661.7,901.7 665,960 C668.3,1018.3 659.2,1085.0 650,1150 C640.8,1215.0 618.3,1286.7 610,1350 C601.7,1413.3 601.7,1500.0 600,1530" stroke="#e82020" stroke-opacity="0.95"/>
<path d="M310,435 C330.0,460.8 388.3,542.5 430,590 C471.7,637.5 525.0,678.3 560,720 C595.0,761.7 621.7,800.0 640,840 C658.3,880.0 667.5,908.3 670,960 C672.5,1011.7 665.0,1085.0 655,1150 C645.0,1215.0 620.8,1291.7 610,1350 C599.2,1408.3 593.3,1475.0 590,1500" stroke="#d83040" stroke-opacity="0.95"/>
</g>
<path d="M1694.4,309.5 V360.5 H1746.2" fill="none" stroke="#000" stroke-width="5.2" stroke-linecap="square" stroke-linejoin="miter"/>
<clipPath id="ka0"><rect x="127.6" y="428.6" width="348.0" height="175.39999999999998"/></clipPath>
<clipPath id="cka0"><rect x="127.6" y="644.8" width="348.0" height="176.20000000000005"/></clipPath>
<g clip-path="url(#ka0)">
<line x1="127.6" y1="577.2" x2="475.6" y2="577.2" stroke="#6b8e23" stroke-width="2.1" stroke-dasharray="7.6 3.6"/>
<g fill="#9acd32" fill-opacity="0.8" stroke="#6b8e23" stroke-opacity="0.9" stroke-width="1">
<circle cx="127.6" cy="594.4" r="6.5"/>
<circle cx="131.1" cy="590.8" r="6.5"/>
<circle cx="134.6" cy="595.2" r="6.5"/>
<circle cx="141.5" cy="590.8" r="6.5"/>
<circle cx="145.0" cy="589.5" r="6.5"/>
<circle cx="148.5" cy="590.4" r="6.5"/>
<circle cx="152.0" cy="590.8" r="6.5"/>
<circle cx="155.4" cy="593.5" r="6.5"/>
<circle cx="158.9" cy="596.1" r="6.5"/>
<circle cx="162.4" cy="602.0" r="6.5"/>
<circle cx="165.9" cy="595.2" r="6.5"/>
<circle cx="169.4" cy="596.5" r="6.5"/>
<circle cx="172.8" cy="599.0" r="6.5"/>
<circle cx="176.3" cy="601.8" r="6.5"/>
<circle cx="179.8" cy="596.1" r="6.5"/>
<circle cx="183.3" cy="599.8" r="6.5"/>
<circle cx="186.8" cy="598.5" r="6.5"/>
<circle cx="190.2" cy="600.0" r="6.5"/>
<circle cx="193.7" cy="600.7" r="6.5"/>
<circle cx="197.2" cy="585.1" r="6.5"/>
<circle cx="200.7" cy="602.1" r="6.5"/>
<circle cx="204.2" cy="598.9" r="6.5"/>
<circle cx="207.6" cy="601.1" r="6.5"/>
<circle cx="211.1" cy="596.1" r="6.5"/>
<circle cx="214.6" cy="601.8" r="6.5"/>
<circle cx="218.1" cy="591.3" r="6.5"/>
<circle cx="221.6" cy="590.4" r="6.5"/>
<circle cx="225.0" cy="601.5" r="6.5"/>
<circle cx="228.5" cy="600.0" r="6.5"/>
<circle cx="232.0" cy="599.7" r="6.5"/>
<circle cx="235.5" cy="596.5" r="6.5"/>
<circle cx="239.0" cy="596.1" r="6.5"/>
<circle cx="242.4" cy="602.0" r="6.5"/>
<circle cx="245.9" cy="602.0" r="6.5"/>
<circle cx="249.4" cy="601.4" r="6.5"/>
<circle cx="252.9" cy="599.6" r="6.5"/>
<circle cx="256.4" cy="600.6" r="6.5"/>
<circle cx="259.8" cy="601.0" r="6.5"/>
<circle cx="263.3" cy="599.9" r="6.5"/>
<circle cx="266.8" cy="600.5" r="6.5"/>
<circle cx="270.3" cy="601.1" r="6.5"/>
<circle cx="273.8" cy="599.1" r="6.5"/>
<circle cx="277.2" cy="599.5" r="6.5"/>
<circle cx="280.7" cy="601.3" r="6.5"/>
<circle cx="284.2" cy="600.0" r="6.5"/>
<circle cx="287.7" cy="600.2" r="6.5"/>
<circle cx="291.2" cy="589.5" r="6.5"/>
<circle cx="294.6" cy="593.5" r="6.5"/>
<circle cx="298.1" cy="597.4" r="6.5"/>
<circle cx="301.6" cy="598.4" r="6.5"/>
<circle cx="305.1" cy="601.8" r="6.5"/>
<circle cx="308.6" cy="600.6" r="6.5"/>
<circle cx="312.0" cy="599.3" r="6.5"/>
<circle cx="315.5" cy="601.6" r="6.5"/>
<circle cx="319.0" cy="600.3" r="6.5"/>
<circle cx="322.5" cy="602.1" r="6.5"/>
<circle cx="326.0" cy="599.6" r="6.5"/>
<circle cx="329.4" cy="599.2" r="6.5"/>
<circle cx="332.9" cy="600.0" r="6.5"/>
<circle cx="336.4" cy="593.5" r="6.5"/>
<circle cx="339.9" cy="597.9" r="6.5"/>
<circle cx="343.4" cy="599.5" r="6.5"/>
<circle cx="346.8" cy="599.9" r="6.5"/>
<circle cx="350.3" cy="600.0" r="6.5"/>
<circle cx="353.8" cy="594.4" r="6.5"/>
<circle cx="357.3" cy="595.7" r="6.5"/>
<circle cx="360.8" cy="598.5" r="6.5"/>
<circle cx="364.2" cy="600.4" r="6.5"/>
<circle cx="367.7" cy="599.6" r="6.5"/>
<circle cx="371.2" cy="602.0" r="6.5"/>
<circle cx="374.7" cy="599.5" r="6.5"/>
<circle cx="378.2" cy="599.7" r="6.5"/>
<circle cx="381.6" cy="594.8" r="6.5"/>
<circle cx="385.1" cy="597.9" r="6.5"/>
<circle cx="388.6" cy="601.1" r="6.5"/>
<circle cx="392.1" cy="600.7" r="6.5"/>
<circle cx="395.6" cy="599.6" r="6.5"/>
<circle cx="399.0" cy="602.2" r="6.5"/>
<circle cx="402.5" cy="600.4" r="6.5"/>
<circle cx="406.0" cy="597.4" r="6.5"/>
<circle cx="409.5" cy="594.4" r="6.5"/>
<circle cx="413.0" cy="597.0" r="6.5"/>
<circle cx="416.4" cy="599.2" r="6.5"/>
<circle cx="419.9" cy="601.7" r="6.5"/>
<circle cx="423.4" cy="598.3" r="6.5"/>
<circle cx="426.9" cy="597.9" r="6.5"/>
<circle cx="430.4" cy="598.8" r="6.5"/>
<circle cx="433.8" cy="601.9" r="6.5"/>
<circle cx="437.3" cy="600.5" r="6.5"/>
<circle cx="447.8" cy="583.2" r="6.5"/>
<circle cx="451.2" cy="594.4" r="6.5"/>
<circle cx="454.7" cy="579.0" r="6.5"/>
<circle cx="458.2" cy="590.4" r="6.5"/>
<circle cx="461.7" cy="597.0" r="6.5"/>
<circle cx="465.2" cy="597.9" r="6.5"/>
<circle cx="468.6" cy="597.9" r="6.5"/>
<circle cx="472.1" cy="598.3" r="6.5"/>
<circle cx="475.6" cy="598.3" r="6.5"/>
</g>
<g fill="#4466d8" fill-opacity="0.92">
<circle cx="139.1" cy="576.4" r="7.2"/>
<circle cx="439.4" cy="548.7" r="7.2"/>
<circle cx="443.9" cy="543.0" r="7.2"/>
</g>
</g>
<rect x="127.60" y="428.60" width="348.00" height="175.40" fill="none" stroke="#000" stroke-width="1.5"/>
<g clip-path="url(#cka0)">
<g fill="#9acd32" fill-opacity="0.8" stroke="#6b8e23" stroke-opacity="0.9" stroke-width="1">
<circle cx="127.6" cy="821.0" r="6.5"/>
<circle cx="133.3" cy="818.6" r="6.5"/>
<circle cx="139.1" cy="816.2" r="6.5"/>
<circle cx="144.8" cy="813.2" r="6.5"/>
<circle cx="150.6" cy="810.3" r="6.5"/>
<circle cx="156.3" cy="808.5" r="6.5"/>
<circle cx="162.1" cy="807.3" r="6.5"/>
<circle cx="167.8" cy="806.1" r="6.5"/>
<circle cx="173.5" cy="805.0" r="6.5"/>
<circle cx="179.3" cy="804.1" r="6.5"/>
<circle cx="185.0" cy="803.1" r="6.5"/>
<circle cx="190.8" cy="802.1" r="6.5"/>
<circle cx="196.5" cy="801.1" r="6.5"/>
<circle cx="202.2" cy="798.9" r="6.5"/>
<circle cx="208.0" cy="797.6" r="6.5"/>
<circle cx="213.7" cy="796.9" r="6.5"/>
<circle cx="219.5" cy="796.2" r="6.5"/>
<circle cx="225.2" cy="795.4" r="6.5"/>
<circle cx="231.0" cy="794.7" r="6.5"/>
<circle cx="236.7" cy="794.3" r="6.5"/>
<circle cx="242.4" cy="794.0" r="6.5"/>
<circle cx="248.2" cy="793.7" r="6.5"/>
<circle cx="253.9" cy="793.4" r="6.5"/>
<circle cx="259.7" cy="793.1" r="6.5"/>
<circle cx="265.4" cy="792.8" r="6.5"/>
<circle cx="271.1" cy="792.5" r="6.5"/>
<circle cx="276.9" cy="792.2" r="6.5"/>
<circle cx="282.6" cy="791.9" r="6.5"/>
<circle cx="288.4" cy="791.4" r="6.5"/>
<circle cx="294.1" cy="789.3" r="6.5"/>
<circle cx="299.9" cy="787.3" r="6.5"/>
<circle cx="305.6" cy="786.3" r="6.5"/>
<circle cx="311.3" cy="785.9" r="6.5"/>
<circle cx="317.1" cy="785.5" r="6.5"/>
<circle cx="322.8" cy="785.0" r="6.5"/>
<circle cx="328.6" cy="784.6" r="6.5"/>
<circle cx="334.3" cy="784.2" r="6.5"/>
<circle cx="340.1" cy="783.5" r="6.5"/>
<circle cx="345.8" cy="782.8" r="6.5"/>
<circle cx="351.5" cy="782.0" r="6.5"/>
<circle cx="357.3" cy="781.3" r="6.5"/>
<circle cx="363.0" cy="780.6" r="6.5"/>
<circle cx="368.8" cy="779.8" r="6.5"/>
<circle cx="374.5" cy="779.1" r="6.5"/>
<circle cx="380.2" cy="778.3" r="6.5"/>
<circle cx="386.0" cy="777.6" r="6.5"/>
<circle cx="391.7" cy="777.1" r="6.5"/>
<circle cx="397.5" cy="776.7" r="6.5"/>
<circle cx="403.2" cy="776.4" r="6.5"/>
<circle cx="409.0" cy="776.0" r="6.5"/>
<circle cx="414.7" cy="775.7" r="6.5"/>
<circle cx="420.4" cy="775.4" r="6.5"/>
<circle cx="426.2" cy="774.8" r="6.5"/>
<circle cx="431.9" cy="774.1" r="6.5"/>
<circle cx="437.7" cy="772.7" r="6.5"/>
<circle cx="443.4" cy="763.1" r="6.5"/>
<circle cx="449.2" cy="755.9" r="6.5"/>
<circle cx="454.9" cy="751.0" r="6.5"/>
<circle cx="460.6" cy="748.3" r="6.5"/>
<circle cx="466.4" cy="747.2" r="6.5"/>
<circle cx="472.1" cy="746.2" r="6.5"/>
</g>
<g fill="#4466d8" fill-opacity="0.92">
<circle cx="142.6" cy="814.5" r="7.2"/>
<circle cx="442.5" cy="764.2" r="7.2"/>
<circle cx="447.1" cy="758.4" r="7.2"/>
</g></g>
<rect x="127.60" y="644.80" width="348.00" height="176.20" fill="none" stroke="#000" stroke-width="1.5"/>
<g stroke="#000" stroke-width="1.5">
<line x1="127.6" y1="604.0" x2="127.6" y2="609.2"/>
<line x1="127.6" y1="821.0" x2="127.6" y2="826.2"/>
<line x1="214.6" y1="604.0" x2="214.6" y2="609.2"/>
<line x1="214.6" y1="821.0" x2="214.6" y2="826.2"/>
<line x1="301.6" y1="604.0" x2="301.6" y2="609.2"/>
<line x1="301.6" y1="821.0" x2="301.6" y2="826.2"/>
<line x1="388.6" y1="604.0" x2="388.6" y2="609.2"/>
<line x1="388.6" y1="821.0" x2="388.6" y2="826.2"/>
<line x1="475.6" y1="604.0" x2="475.6" y2="609.2"/>
<line x1="475.6" y1="821.0" x2="475.6" y2="826.2"/>
<line x1="122.39999999999999" y1="604.0" x2="127.6" y2="604.0"/>
<line x1="122.39999999999999" y1="821.0" x2="127.6" y2="821.0"/>
<line x1="122.39999999999999" y1="516.3" x2="127.6" y2="516.3"/>
<line x1="122.39999999999999" y1="732.9" x2="127.6" y2="732.9"/>
<line x1="122.39999999999999" y1="428.6" x2="127.6" y2="428.6"/>
<line x1="122.39999999999999" y1="644.8" x2="127.6" y2="644.8"/>
</g>
<text x="118.00" y="613.80" font-size="26.6" text-anchor="end" fill="#000">0.0</text>
<text x="118.00" y="526.10" font-size="26.6" text-anchor="end" fill="#000">0.2</text>
<text x="118.00" y="438.40" font-size="26.6" text-anchor="end" fill="#000">0.4</text>
<text x="118.00" y="830.80" font-size="26.6" text-anchor="end" fill="#000">0.0</text>
<text x="118.00" y="742.70" font-size="26.6" text-anchor="end" fill="#000">1.5</text>
<text x="118.00" y="654.60" font-size="26.6" text-anchor="end" fill="#000">3.0</text>
<text x="127.60" y="851.40" font-size="26.6" text-anchor="middle" fill="#000">0</text>
<text x="214.60" y="851.40" font-size="26.6" text-anchor="middle" fill="#000">25</text>
<text x="301.60" y="851.40" font-size="26.6" text-anchor="middle" fill="#000">50</text>
<text x="388.60" y="851.40" font-size="26.6" text-anchor="middle" fill="#000">75</text>
<text x="475.60" y="851.40" font-size="26.6" text-anchor="middle" fill="#000">100</text>
<text x="301.60" y="887.50" font-size="32" text-anchor="middle" fill="#000">time [s]</text>
<clipPath id="ka1"><rect x="583.6" y="428.6" width="347.79999999999995" height="175.39999999999998"/></clipPath>
<clipPath id="cka1"><rect x="583.6" y="644.8" width="347.79999999999995" height="176.20000000000005"/></clipPath>
<g clip-path="url(#ka1)">
<line x1="583.6" y1="586.0" x2="931.4" y2="586.0" stroke="#800080" stroke-width="2.1" stroke-dasharray="7.6 3.6"/>
<g fill="#9370db" fill-opacity="0.8" stroke="#5a2fa8" stroke-opacity="0.9" stroke-width="1">
<circle cx="583.6" cy="598.7" r="6.5"/>
<circle cx="587.1" cy="601.3" r="6.5"/>
<circle cx="590.6" cy="600.3" r="6.5"/>
<circle cx="594.0" cy="595.7" r="6.5"/>
<circle cx="597.5" cy="597.9" r="6.5"/>
<circle cx="601.0" cy="602.2" r="6.5"/>
<circle cx="604.5" cy="600.6" r="6.5"/>
<circle cx="607.9" cy="600.8" r="6.5"/>
<circle cx="611.4" cy="600.0" r="6.5"/>
<circle cx="614.9" cy="598.5" r="6.5"/>
<circle cx="618.4" cy="595.2" r="6.5"/>
<circle cx="621.9" cy="596.1" r="6.5"/>
<circle cx="625.3" cy="599.8" r="6.5"/>
<circle cx="628.8" cy="586.5" r="6.5"/>
<circle cx="632.3" cy="602.0" r="6.5"/>
<circle cx="635.8" cy="598.7" r="6.5"/>
<circle cx="639.2" cy="595.7" r="6.5"/>
<circle cx="642.7" cy="598.8" r="6.5"/>
<circle cx="646.2" cy="599.1" r="6.5"/>
<circle cx="649.7" cy="600.7" r="6.5"/>
<circle cx="653.2" cy="600.7" r="6.5"/>
<circle cx="656.6" cy="601.8" r="6.5"/>
<circle cx="660.1" cy="599.7" r="6.5"/>
<circle cx="663.6" cy="602.0" r="6.5"/>
<circle cx="667.1" cy="602.0" r="6.5"/>
<circle cx="670.5" cy="601.4" r="6.5"/>
<circle cx="674.0" cy="595.7" r="6.5"/>
<circle cx="677.5" cy="600.9" r="6.5"/>
<circle cx="681.0" cy="602.0" r="6.5"/>
<circle cx="684.5" cy="594.8" r="6.5"/>
<circle cx="687.9" cy="596.1" r="6.5"/>
<circle cx="691.4" cy="601.8" r="6.5"/>
<circle cx="694.9" cy="600.8" r="6.5"/>
<circle cx="698.4" cy="602.1" r="6.5"/>
<circle cx="701.9" cy="598.8" r="6.5"/>
<circle cx="705.3" cy="596.1" r="6.5"/>
<circle cx="708.8" cy="595.7" r="6.5"/>
<circle cx="712.3" cy="601.3" r="6.5"/>
<circle cx="715.8" cy="600.9" r="6.5"/>
<circle cx="719.2" cy="596.1" r="6.5"/>
<circle cx="722.7" cy="601.8" r="6.5"/>
<circle cx="726.2" cy="598.9" r="6.5"/>
<circle cx="729.7" cy="598.3" r="6.5"/>
<circle cx="733.2" cy="600.4" r="6.5"/>
<circle cx="736.6" cy="590.4" r="6.5"/>
<circle cx="740.1" cy="592.2" r="6.5"/>
<circle cx="743.6" cy="594.4" r="6.5"/>
<circle cx="747.1" cy="597.9" r="6.5"/>
<circle cx="750.5" cy="601.2" r="6.5"/>
<circle cx="754.0" cy="599.0" r="6.5"/>
<circle cx="757.5" cy="601.6" r="6.5"/>
<circle cx="761.0" cy="594.8" r="6.5"/>
<circle cx="764.5" cy="598.5" r="6.5"/>
<circle cx="767.9" cy="600.2" r="6.5"/>
<circle cx="771.4" cy="601.7" r="6.5"/>
<circle cx="774.9" cy="600.1" r="6.5"/>
<circle cx="778.4" cy="602.1" r="6.5"/>
<circle cx="781.8" cy="593.5" r="6.5"/>
<circle cx="785.3" cy="594.8" r="6.5"/>
<circle cx="788.8" cy="597.0" r="6.5"/>
<circle cx="792.3" cy="599.5" r="6.5"/>
<circle cx="795.8" cy="601.2" r="6.5"/>
<circle cx="799.2" cy="600.8" r="6.5"/>
<circle cx="802.7" cy="601.6" r="6.5"/>
<circle cx="806.2" cy="599.2" r="6.5"/>
<circle cx="809.7" cy="590.8" r="6.5"/>
<circle cx="813.1" cy="590.8" r="6.5"/>
<circle cx="816.6" cy="600.9" r="6.5"/>
<circle cx="820.1" cy="601.4" r="6.5"/>
<circle cx="823.6" cy="599.0" r="6.5"/>
<circle cx="827.1" cy="598.4" r="6.5"/>
<circle cx="830.5" cy="598.9" r="6.5"/>
<circle cx="834.0" cy="599.1" r="6.5"/>
<circle cx="837.5" cy="599.0" r="6.5"/>
<circle cx="841.0" cy="595.2" r="6.5"/>
<circle cx="844.5" cy="601.4" r="6.5"/>
<circle cx="847.9" cy="600.2" r="6.5"/>
<circle cx="851.4" cy="591.3" r="6.5"/>
<circle cx="854.9" cy="596.1" r="6.5"/>
<circle cx="858.4" cy="602.1" r="6.5"/>
<circle cx="861.8" cy="601.1" r="6.5"/>
<circle cx="865.3" cy="601.2" r="6.5"/>
<circle cx="868.8" cy="597.0" r="6.5"/>
<circle cx="872.3" cy="598.5" r="6.5"/>
<circle cx="875.8" cy="600.5" r="6.5"/>
<circle cx="879.2" cy="596.1" r="6.5"/>
<circle cx="882.7" cy="598.3" r="6.5"/>
<circle cx="886.2" cy="598.5" r="6.5"/>
<circle cx="889.7" cy="600.8" r="6.5"/>
<circle cx="893.1" cy="601.4" r="6.5"/>
<circle cx="896.6" cy="601.4" r="6.5"/>
<circle cx="900.1" cy="594.8" r="6.5"/>
<circle cx="903.6" cy="594.4" r="6.5"/>
<circle cx="907.1" cy="599.8" r="6.5"/>
<circle cx="910.5" cy="598.7" r="6.5"/>
<circle cx="914.0" cy="598.9" r="6.5"/>
<circle cx="917.5" cy="597.0" r="6.5"/>
<circle cx="921.0" cy="599.7" r="6.5"/>
<circle cx="924.4" cy="590.8" r="6.5"/>
<circle cx="927.9" cy="593.0" r="6.5"/>
<circle cx="931.4" cy="595.2" r="6.5"/>
</g>
<g fill="#4466d8" fill-opacity="0.92">
</g>
</g>
<rect x="583.60" y="428.60" width="347.80" height="175.40" fill="none" stroke="#000" stroke-width="1.5"/>
<g clip-path="url(#cka1)">
<g fill="#9370db" fill-opacity="0.8" stroke="#5a2fa8" stroke-opacity="0.9" stroke-width="1">
<circle cx="583.6" cy="819.8" r="6.5"/>
<circle cx="589.3" cy="819.5" r="6.5"/>
<circle cx="595.1" cy="819.2" r="6.5"/>
<circle cx="600.8" cy="818.9" r="6.5"/>
<circle cx="606.6" cy="818.5" r="6.5"/>
<circle cx="612.3" cy="818.2" r="6.5"/>
<circle cx="618.0" cy="817.9" r="6.5"/>
<circle cx="623.8" cy="817.6" r="6.5"/>
<circle cx="629.5" cy="816.1" r="6.5"/>
<circle cx="635.2" cy="814.9" r="6.5"/>
<circle cx="641.0" cy="814.5" r="6.5"/>
<circle cx="646.7" cy="814.0" r="6.5"/>
<circle cx="652.5" cy="813.6" r="6.5"/>
<circle cx="658.2" cy="813.1" r="6.5"/>
<circle cx="663.9" cy="812.7" r="6.5"/>
<circle cx="669.7" cy="812.3" r="6.5"/>
<circle cx="675.4" cy="811.8" r="6.5"/>
<circle cx="681.2" cy="811.4" r="6.5"/>
<circle cx="686.9" cy="811.0" r="6.5"/>
<circle cx="692.6" cy="810.6" r="6.5"/>
<circle cx="698.4" cy="810.2" r="6.5"/>
<circle cx="704.1" cy="809.8" r="6.5"/>
<circle cx="709.9" cy="809.4" r="6.5"/>
<circle cx="715.6" cy="809.0" r="6.5"/>
<circle cx="721.3" cy="808.6" r="6.5"/>
<circle cx="727.1" cy="808.2" r="6.5"/>
<circle cx="732.8" cy="807.8" r="6.5"/>
<circle cx="738.5" cy="806.8" r="6.5"/>
<circle cx="744.3" cy="804.7" r="6.5"/>
<circle cx="750.0" cy="803.4" r="6.5"/>
<circle cx="755.8" cy="802.9" r="6.5"/>
<circle cx="761.5" cy="802.5" r="6.5"/>
<circle cx="767.2" cy="802.0" r="6.5"/>
<circle cx="773.0" cy="801.5" r="6.5"/>
<circle cx="778.7" cy="801.0" r="6.5"/>
<circle cx="784.5" cy="800.5" r="6.5"/>
<circle cx="790.2" cy="800.0" r="6.5"/>
<circle cx="795.9" cy="799.6" r="6.5"/>
<circle cx="801.7" cy="799.1" r="6.5"/>
<circle cx="807.4" cy="798.7" r="6.5"/>
<circle cx="813.1" cy="798.2" r="6.5"/>
<circle cx="818.9" cy="797.8" r="6.5"/>
<circle cx="824.6" cy="797.3" r="6.5"/>
<circle cx="830.4" cy="796.9" r="6.5"/>
<circle cx="836.1" cy="796.4" r="6.5"/>
<circle cx="841.8" cy="796.0" r="6.5"/>
<circle cx="847.6" cy="794.8" r="6.5"/>
<circle cx="853.3" cy="793.0" r="6.5"/>
<circle cx="859.1" cy="792.1" r="6.5"/>
<circle cx="864.8" cy="791.6" r="6.5"/>
<circle cx="870.5" cy="791.1" r="6.5"/>
<circle cx="876.3" cy="790.6" r="6.5"/>
<circle cx="882.0" cy="790.0" r="6.5"/>
<circle cx="887.8" cy="789.5" r="6.5"/>
<circle cx="893.5" cy="789.0" r="6.5"/>
<circle cx="899.2" cy="788.4" r="6.5"/>
<circle cx="905.0" cy="787.8" r="6.5"/>
<circle cx="910.7" cy="787.2" r="6.5"/>
<circle cx="916.4" cy="786.5" r="6.5"/>
<circle cx="922.2" cy="785.9" r="6.5"/>
<circle cx="927.9" cy="785.3" r="6.5"/>
</g>
<g fill="#4466d8" fill-opacity="0.92">
</g></g>
<rect x="583.60" y="644.80" width="347.80" height="176.20" fill="none" stroke="#000" stroke-width="1.5"/>
<g stroke="#000" stroke-width="1.5">
<line x1="583.6" y1="604.0" x2="583.6" y2="609.2"/>
<line x1="583.6" y1="821.0" x2="583.6" y2="826.2"/>
<line x1="670.5" y1="604.0" x2="670.5" y2="609.2"/>
<line x1="670.5" y1="821.0" x2="670.5" y2="826.2"/>
<line x1="757.5" y1="604.0" x2="757.5" y2="609.2"/>
<line x1="757.5" y1="821.0" x2="757.5" y2="826.2"/>
<line x1="844.5" y1="604.0" x2="844.5" y2="609.2"/>
<line x1="844.5" y1="821.0" x2="844.5" y2="826.2"/>
<line x1="931.4" y1="604.0" x2="931.4" y2="609.2"/>
<line x1="931.4" y1="821.0" x2="931.4" y2="826.2"/>
<line x1="578.4" y1="604.0" x2="583.6" y2="604.0"/>
<line x1="578.4" y1="821.0" x2="583.6" y2="821.0"/>
<line x1="578.4" y1="516.3" x2="583.6" y2="516.3"/>
<line x1="578.4" y1="732.9" x2="583.6" y2="732.9"/>
<line x1="578.4" y1="428.6" x2="583.6" y2="428.6"/>
<line x1="578.4" y1="644.8" x2="583.6" y2="644.8"/>
</g>
<text x="574.00" y="613.80" font-size="26.6" text-anchor="end" fill="#000">0.0</text>
<text x="574.00" y="526.10" font-size="26.6" text-anchor="end" fill="#000">0.2</text>
<text x="574.00" y="438.40" font-size="26.6" text-anchor="end" fill="#000">0.4</text>
<text x="574.00" y="830.80" font-size="26.6" text-anchor="end" fill="#000">0.0</text>
<text x="574.00" y="742.70" font-size="26.6" text-anchor="end" fill="#000">1.5</text>
<text x="574.00" y="654.60" font-size="26.6" text-anchor="end" fill="#000">3.0</text>
<text x="583.60" y="851.40" font-size="26.6" text-anchor="middle" fill="#000">0</text>
<text x="670.55" y="851.40" font-size="26.6" text-anchor="middle" fill="#000">25</text>
<text x="757.50" y="851.40" font-size="26.6" text-anchor="middle" fill="#000">50</text>
<text x="844.45" y="851.40" font-size="26.6" text-anchor="middle" fill="#000">75</text>
<text x="931.40" y="851.40" font-size="26.6" text-anchor="middle" fill="#000">100</text>
<text x="757.50" y="887.50" font-size="32" text-anchor="middle" fill="#000">time [s]</text>
<clipPath id="ka2"><rect x="1040.2" y="428.6" width="347.79999999999995" height="175.39999999999998"/></clipPath>
<clipPath id="cka2"><rect x="1040.2" y="644.8" width="347.79999999999995" height="176.20000000000005"/></clipPath>
<g clip-path="url(#ka2)">
<line x1="1040.2" y1="548.3" x2="1388.0" y2="548.3" stroke="#ff8c00" stroke-width="2.1" stroke-dasharray="7.6 3.6"/>
<g fill="#ffa500" fill-opacity="0.8" stroke="#ff8c00" stroke-opacity="0.9" stroke-width="1">
<circle cx="1040.2" cy="598.3" r="6.5"/>
<circle cx="1043.7" cy="598.8" r="6.5"/>
<circle cx="1047.2" cy="597.4" r="6.5"/>
<circle cx="1050.6" cy="595.7" r="6.5"/>
<circle cx="1054.1" cy="601.5" r="6.5"/>
<circle cx="1057.6" cy="598.8" r="6.5"/>
<circle cx="1061.1" cy="597.9" r="6.5"/>
<circle cx="1064.5" cy="598.7" r="6.5"/>
<circle cx="1068.0" cy="596.5" r="6.5"/>
<circle cx="1071.5" cy="596.1" r="6.5"/>
<circle cx="1075.0" cy="600.5" r="6.5"/>
<circle cx="1078.5" cy="598.1" r="6.5"/>
<circle cx="1081.9" cy="599.1" r="6.5"/>
<circle cx="1085.4" cy="601.5" r="6.5"/>
<circle cx="1088.9" cy="594.8" r="6.5"/>
<circle cx="1092.4" cy="601.6" r="6.5"/>
<circle cx="1095.8" cy="598.3" r="6.5"/>
<circle cx="1099.3" cy="597.9" r="6.5"/>
<circle cx="1102.8" cy="597.4" r="6.5"/>
<circle cx="1106.3" cy="598.6" r="6.5"/>
<circle cx="1109.8" cy="597.9" r="6.5"/>
<circle cx="1113.2" cy="599.4" r="6.5"/>
<circle cx="1116.7" cy="600.7" r="6.5"/>
<circle cx="1120.2" cy="599.8" r="6.5"/>
<circle cx="1123.7" cy="596.5" r="6.5"/>
<circle cx="1127.2" cy="602.2" r="6.5"/>
<circle cx="1130.6" cy="598.0" r="6.5"/>
<circle cx="1134.1" cy="596.1" r="6.5"/>
<circle cx="1137.6" cy="568.0" r="6.5"/>
<circle cx="1141.1" cy="595.2" r="6.5"/>
<circle cx="1144.5" cy="584.3" r="6.5"/>
<circle cx="1148.0" cy="595.2" r="6.5"/>
<circle cx="1151.5" cy="598.6" r="6.5"/>
<circle cx="1155.0" cy="601.3" r="6.5"/>
<circle cx="1158.5" cy="601.1" r="6.5"/>
<circle cx="1161.9" cy="592.6" r="6.5"/>
<circle cx="1165.4" cy="599.6" r="6.5"/>
<circle cx="1168.9" cy="599.7" r="6.5"/>
<circle cx="1172.4" cy="596.1" r="6.5"/>
<circle cx="1175.8" cy="591.7" r="6.5"/>
<circle cx="1179.3" cy="601.7" r="6.5"/>
<circle cx="1182.8" cy="582.5" r="6.5"/>
<circle cx="1186.3" cy="599.6" r="6.5"/>
<circle cx="1189.8" cy="600.2" r="6.5"/>
<circle cx="1193.2" cy="599.7" r="6.5"/>
<circle cx="1196.7" cy="598.3" r="6.5"/>
<circle cx="1200.2" cy="600.4" r="6.5"/>
<circle cx="1203.7" cy="598.2" r="6.5"/>
<circle cx="1207.1" cy="600.0" r="6.5"/>
<circle cx="1210.6" cy="597.0" r="6.5"/>
<circle cx="1214.1" cy="560.1" r="6.5"/>
<circle cx="1224.5" cy="559.3" r="6.5"/>
<circle cx="1228.0" cy="563.7" r="6.5"/>
<circle cx="1235.0" cy="587.1" r="6.5"/>
<circle cx="1238.4" cy="596.5" r="6.5"/>
<circle cx="1241.9" cy="601.4" r="6.5"/>
<circle cx="1245.4" cy="601.8" r="6.5"/>
<circle cx="1248.9" cy="601.8" r="6.5"/>
<circle cx="1252.4" cy="576.4" r="6.5"/>
<circle cx="1255.8" cy="590.8" r="6.5"/>
<circle cx="1259.3" cy="600.5" r="6.5"/>
<circle cx="1262.8" cy="600.5" r="6.5"/>
<circle cx="1266.3" cy="598.7" r="6.5"/>
<circle cx="1269.7" cy="583.4" r="6.5"/>
<circle cx="1273.2" cy="597.9" r="6.5"/>
<circle cx="1276.7" cy="598.7" r="6.5"/>
<circle cx="1280.2" cy="599.6" r="6.5"/>
<circle cx="1283.7" cy="579.0" r="6.5"/>
<circle cx="1287.1" cy="586.9" r="6.5"/>
<circle cx="1290.6" cy="591.7" r="6.5"/>
<circle cx="1294.1" cy="597.9" r="6.5"/>
<circle cx="1297.6" cy="598.7" r="6.5"/>
<circle cx="1301.0" cy="589.5" r="6.5"/>
<circle cx="1304.5" cy="597.9" r="6.5"/>
<circle cx="1308.0" cy="594.8" r="6.5"/>
<circle cx="1311.5" cy="595.2" r="6.5"/>
<circle cx="1315.0" cy="575.1" r="6.5"/>
<circle cx="1318.4" cy="579.0" r="6.5"/>
<circle cx="1321.9" cy="588.7" r="6.5"/>
<circle cx="1325.4" cy="592.2" r="6.5"/>
<circle cx="1328.9" cy="586.9" r="6.5"/>
<circle cx="1332.4" cy="576.4" r="6.5"/>
<circle cx="1335.8" cy="601.8" r="6.5"/>
<circle cx="1339.3" cy="601.8" r="6.5"/>
<circle cx="1342.8" cy="597.0" r="6.5"/>
</g>
<g fill="#4466d8" fill-opacity="0.92">
<circle cx="1221.1" cy="449.6" r="7.2"/>
<circle cx="1216.9" cy="508.4" r="7.2"/>
<circle cx="1232.2" cy="501.2" r="7.2"/>
</g>
</g>
<rect x="1040.20" y="428.60" width="347.80" height="175.40" fill="none" stroke="#000" stroke-width="1.5"/>
<g clip-path="url(#cka2)">
<g fill="#ffa500" fill-opacity="0.8" stroke="#ff8c00" stroke-opacity="0.9" stroke-width="1">
<circle cx="1040.2" cy="819.2" r="6.5"/>
<circle cx="1045.9" cy="818.6" r="6.5"/>
<circle cx="1051.7" cy="817.9" r="6.5"/>
<circle cx="1057.4" cy="817.2" r="6.5"/>
<circle cx="1063.2" cy="816.5" r="6.5"/>
<circle cx="1068.9" cy="815.8" r="6.5"/>
<circle cx="1074.6" cy="815.2" r="6.5"/>
<circle cx="1080.4" cy="814.5" r="6.5"/>
<circle cx="1086.1" cy="813.8" r="6.5"/>
<circle cx="1091.8" cy="813.2" r="6.5"/>
<circle cx="1097.6" cy="812.5" r="6.5"/>
<circle cx="1103.3" cy="811.8" r="6.5"/>
<circle cx="1109.1" cy="811.2" r="6.5"/>
<circle cx="1114.8" cy="810.5" r="6.5"/>
<circle cx="1120.5" cy="809.8" r="6.5"/>
<circle cx="1126.3" cy="809.2" r="6.5"/>
<circle cx="1132.0" cy="807.5" r="6.5"/>
<circle cx="1137.8" cy="802.7" r="6.5"/>
<circle cx="1143.5" cy="800.5" r="6.5"/>
<circle cx="1149.2" cy="798.5" r="6.5"/>
<circle cx="1155.0" cy="797.8" r="6.5"/>
<circle cx="1160.7" cy="797.0" r="6.5"/>
<circle cx="1166.5" cy="796.3" r="6.5"/>
<circle cx="1172.2" cy="795.5" r="6.5"/>
<circle cx="1177.9" cy="794.8" r="6.5"/>
<circle cx="1183.7" cy="792.9" r="6.5"/>
<circle cx="1189.4" cy="790.6" r="6.5"/>
<circle cx="1195.1" cy="789.9" r="6.5"/>
<circle cx="1200.9" cy="789.4" r="6.5"/>
<circle cx="1206.6" cy="788.8" r="6.5"/>
<circle cx="1212.4" cy="786.3" r="6.5"/>
<circle cx="1218.1" cy="775.9" r="6.5"/>
<circle cx="1223.8" cy="752.2" r="6.5"/>
<circle cx="1229.6" cy="740.5" r="6.5"/>
<circle cx="1235.3" cy="725.9" r="6.5"/>
<circle cx="1241.1" cy="722.0" r="6.5"/>
<circle cx="1246.8" cy="719.5" r="6.5"/>
<circle cx="1252.5" cy="716.8" r="6.5"/>
<circle cx="1258.3" cy="714.5" r="6.5"/>
<circle cx="1264.0" cy="712.6" r="6.5"/>
<circle cx="1269.7" cy="710.7" r="6.5"/>
<circle cx="1275.5" cy="708.8" r="6.5"/>
<circle cx="1281.2" cy="706.9" r="6.5"/>
<circle cx="1287.0" cy="704.6" r="6.5"/>
<circle cx="1292.7" cy="702.2" r="6.5"/>
<circle cx="1298.4" cy="699.7" r="6.5"/>
<circle cx="1304.2" cy="697.2" r="6.5"/>
<circle cx="1309.9" cy="695.0" r="6.5"/>
<circle cx="1315.7" cy="692.8" r="6.5"/>
<circle cx="1321.4" cy="689.5" r="6.5"/>
<circle cx="1327.1" cy="684.9" r="6.5"/>
<circle cx="1332.9" cy="682.0" r="6.5"/>
<circle cx="1338.6" cy="679.7" r="6.5"/>
</g>
<g fill="#4466d8" fill-opacity="0.92">
<circle cx="1220.4" cy="769.5" r="7.2"/>
<circle cx="1224.5" cy="748.8" r="7.2"/>
<circle cx="1236.0" cy="723.8" r="7.2"/>
</g></g>
<rect x="1040.20" y="644.80" width="347.80" height="176.20" fill="none" stroke="#000" stroke-width="1.5"/>
<g stroke="#000" stroke-width="1.5">
<line x1="1040.2" y1="604.0" x2="1040.2" y2="609.2"/>
<line x1="1040.2" y1="821.0" x2="1040.2" y2="826.2"/>
<line x1="1127.2" y1="604.0" x2="1127.2" y2="609.2"/>
<line x1="1127.2" y1="821.0" x2="1127.2" y2="826.2"/>
<line x1="1214.1" y1="604.0" x2="1214.1" y2="609.2"/>
<line x1="1214.1" y1="821.0" x2="1214.1" y2="826.2"/>
<line x1="1301.0" y1="604.0" x2="1301.0" y2="609.2"/>
<line x1="1301.0" y1="821.0" x2="1301.0" y2="826.2"/>
<line x1="1388.0" y1="604.0" x2="1388.0" y2="609.2"/>
<line x1="1388.0" y1="821.0" x2="1388.0" y2="826.2"/>
<line x1="1035.0" y1="604.0" x2="1040.2" y2="604.0"/>
<line x1="1035.0" y1="821.0" x2="1040.2" y2="821.0"/>
<line x1="1035.0" y1="516.3" x2="1040.2" y2="516.3"/>
<line x1="1035.0" y1="732.9" x2="1040.2" y2="732.9"/>
<line x1="1035.0" y1="428.6" x2="1040.2" y2="428.6"/>
<line x1="1035.0" y1="644.8" x2="1040.2" y2="644.8"/>
</g>
<text x="1030.60" y="613.80" font-size="26.6" text-anchor="end" fill="#000">0.0</text>
<text x="1030.60" y="526.10" font-size="26.6" text-anchor="end" fill="#000">0.2</text>
<text x="1030.60" y="438.40" font-size="26.6" text-anchor="end" fill="#000">0.4</text>
<text x="1030.60" y="830.80" font-size="26.6" text-anchor="end" fill="#000">0.0</text>
<text x="1030.60" y="742.70" font-size="26.6" text-anchor="end" fill="#000">1.5</text>
<text x="1030.60" y="654.60" font-size="26.6" text-anchor="end" fill="#000">3.0</text>
<text x="1040.20" y="851.40" font-size="26.6" text-anchor="middle" fill="#000">0</text>
<text x="1127.15" y="851.40" font-size="26.6" text-anchor="middle" fill="#000">25</text>
<text x="1214.10" y="851.40" font-size="26.6" text-anchor="middle" fill="#000">50</text>
<text x="1301.05" y="851.40" font-size="26.6" text-anchor="middle" fill="#000">75</text>
<text x="1388.00" y="851.40" font-size="26.6" text-anchor="middle" fill="#000">100</text>
<text x="1214.10" y="887.50" font-size="32" text-anchor="middle" fill="#000">time [s]</text>
<clipPath id="ka3"><rect x="1496.2" y="428.6" width="347.79999999999995" height="175.39999999999998"/></clipPath>
<clipPath id="cka3"><rect x="1496.2" y="644.8" width="347.79999999999995" height="176.20000000000005"/></clipPath>
<g clip-path="url(#ka3)">
<line x1="1496.2" y1="590.4" x2="1844.0" y2="590.4" stroke="#c62828" stroke-width="2.1" stroke-dasharray="7.6 3.6"/>
<g fill="#d95757" fill-opacity="0.8" stroke="#b82a2a" stroke-opacity="0.9" stroke-width="1">
<circle cx="1496.2" cy="600.3" r="6.5"/>
<circle cx="1499.7" cy="597.0" r="6.5"/>
<circle cx="1503.2" cy="596.3" r="6.5"/>
<circle cx="1506.6" cy="598.0" r="6.5"/>
<circle cx="1513.6" cy="602.0" r="6.5"/>
<circle cx="1517.1" cy="602.5" r="6.5"/>
<circle cx="1520.5" cy="600.8" r="6.5"/>
<circle cx="1524.0" cy="597.7" r="6.5"/>
<circle cx="1527.5" cy="600.1" r="6.5"/>
<circle cx="1531.0" cy="598.0" r="6.5"/>
<circle cx="1534.5" cy="597.7" r="6.5"/>
<circle cx="1537.9" cy="600.8" r="6.5"/>
<circle cx="1541.4" cy="602.3" r="6.5"/>
<circle cx="1544.9" cy="594.2" r="6.5"/>
<circle cx="1548.4" cy="595.6" r="6.5"/>
<circle cx="1551.8" cy="601.2" r="6.5"/>
<circle cx="1562.3" cy="596.3" r="6.5"/>
<circle cx="1565.8" cy="595.6" r="6.5"/>
<circle cx="1569.2" cy="597.0" r="6.5"/>
<circle cx="1572.7" cy="597.7" r="6.5"/>
<circle cx="1576.2" cy="598.0" r="6.5"/>
<circle cx="1579.7" cy="601.2" r="6.5"/>
<circle cx="1583.2" cy="601.7" r="6.5"/>
<circle cx="1586.6" cy="602.1" r="6.5"/>
<circle cx="1590.1" cy="601.8" r="6.5"/>
<circle cx="1593.6" cy="600.6" r="6.5"/>
<circle cx="1597.1" cy="598.4" r="6.5"/>
<circle cx="1600.5" cy="598.0" r="6.5"/>
<circle cx="1604.0" cy="601.4" r="6.5"/>
<circle cx="1611.0" cy="601.7" r="6.5"/>
<circle cx="1614.5" cy="600.9" r="6.5"/>
<circle cx="1617.9" cy="596.3" r="6.5"/>
<circle cx="1621.4" cy="598.0" r="6.5"/>
<circle cx="1624.9" cy="599.9" r="6.5"/>
<circle cx="1628.4" cy="600.4" r="6.5"/>
<circle cx="1631.8" cy="599.9" r="6.5"/>
<circle cx="1635.3" cy="599.1" r="6.5"/>
<circle cx="1638.8" cy="601.9" r="6.5"/>
<circle cx="1642.3" cy="602.6" r="6.5"/>
<circle cx="1645.8" cy="600.5" r="6.5"/>
<circle cx="1652.7" cy="602.3" r="6.5"/>
<circle cx="1656.2" cy="601.5" r="6.5"/>
<circle cx="1659.7" cy="600.1" r="6.5"/>
<circle cx="1663.1" cy="600.4" r="6.5"/>
<circle cx="1666.6" cy="601.9" r="6.5"/>
<circle cx="1670.1" cy="597.0" r="6.5"/>
<circle cx="1673.6" cy="598.0" r="6.5"/>
<circle cx="1677.1" cy="601.1" r="6.5"/>
<circle cx="1680.5" cy="598.4" r="6.5"/>
<circle cx="1684.0" cy="602.4" r="6.5"/>
<circle cx="1687.5" cy="602.5" r="6.5"/>
<circle cx="1691.0" cy="600.7" r="6.5"/>
<circle cx="1694.4" cy="597.3" r="6.5"/>
<circle cx="1697.9" cy="598.4" r="6.5"/>
<circle cx="1701.4" cy="600.0" r="6.5"/>
<circle cx="1704.9" cy="600.9" r="6.5"/>
<circle cx="1708.4" cy="600.4" r="6.5"/>
<circle cx="1711.8" cy="602.4" r="6.5"/>
<circle cx="1715.3" cy="600.2" r="6.5"/>
<circle cx="1718.8" cy="602.5" r="6.5"/>
<circle cx="1722.3" cy="600.2" r="6.5"/>
<circle cx="1725.7" cy="597.0" r="6.5"/>
<circle cx="1729.2" cy="598.4" r="6.5"/>
<circle cx="1732.7" cy="601.1" r="6.5"/>
<circle cx="1736.2" cy="600.0" r="6.5"/>
<circle cx="1739.7" cy="601.9" r="6.5"/>
<circle cx="1743.1" cy="602.3" r="6.5"/>
<circle cx="1746.6" cy="601.2" r="6.5"/>
<circle cx="1750.1" cy="598.4" r="6.5"/>
<circle cx="1753.6" cy="602.4" r="6.5"/>
<circle cx="1757.0" cy="597.0" r="6.5"/>
<circle cx="1760.5" cy="597.3" r="6.5"/>
<circle cx="1764.0" cy="598.4" r="6.5"/>
<circle cx="1767.5" cy="601.8" r="6.5"/>
<circle cx="1771.0" cy="601.8" r="6.5"/>
<circle cx="1774.4" cy="600.5" r="6.5"/>
<circle cx="1777.9" cy="601.9" r="6.5"/>
<circle cx="1781.4" cy="601.3" r="6.5"/>
<circle cx="1784.9" cy="602.2" r="6.5"/>
<circle cx="1788.4" cy="601.7" r="6.5"/>
<circle cx="1791.8" cy="602.6" r="6.5"/>
<circle cx="1795.3" cy="597.0" r="6.5"/>
<circle cx="1798.8" cy="599.1" r="6.5"/>
<circle cx="1802.3" cy="600.6" r="6.5"/>
<circle cx="1805.7" cy="601.1" r="6.5"/>
<circle cx="1809.2" cy="602.1" r="6.5"/>
<circle cx="1812.7" cy="601.3" r="6.5"/>
<circle cx="1816.2" cy="600.0" r="6.5"/>
<circle cx="1819.7" cy="602.4" r="6.5"/>
<circle cx="1823.1" cy="600.4" r="6.5"/>
<circle cx="1826.6" cy="601.5" r="6.5"/>
<circle cx="1830.1" cy="601.3" r="6.5"/>
<circle cx="1833.6" cy="600.3" r="6.5"/>
<circle cx="1837.0" cy="601.6" r="6.5"/>
<circle cx="1840.5" cy="601.2" r="6.5"/>
<circle cx="1844.0" cy="600.7" r="6.5"/>
</g>
<g fill="#4466d8" fill-opacity="0.92">
<circle cx="1509.1" cy="500.5" r="7.2"/>
<circle cx="1555.0" cy="553.0" r="7.2"/>
<circle cx="1559.5" cy="585.6" r="7.2"/>
<circle cx="1605.8" cy="563.7" r="7.2"/>
<circle cx="1647.8" cy="588.7" r="7.2"/>
</g>
</g>
<rect x="1496.20" y="428.60" width="347.80" height="175.40" fill="none" stroke="#000" stroke-width="1.5"/>
<g clip-path="url(#cka3)">
<g fill="#d95757" fill-opacity="0.8" stroke="#b82a2a" stroke-opacity="0.9" stroke-width="1">
<circle cx="1496.2" cy="821.0" r="6.5"/>
<circle cx="1501.9" cy="820.2" r="6.5"/>
<circle cx="1507.7" cy="819.3" r="6.5"/>
<circle cx="1513.4" cy="806.1" r="6.5"/>
<circle cx="1519.2" cy="805.6" r="6.5"/>
<circle cx="1524.9" cy="805.0" r="6.5"/>
<circle cx="1530.6" cy="804.5" r="6.5"/>
<circle cx="1536.4" cy="803.9" r="6.5"/>
<circle cx="1542.1" cy="803.4" r="6.5"/>
<circle cx="1547.8" cy="802.8" r="6.5"/>
<circle cx="1553.6" cy="801.6" r="6.5"/>
<circle cx="1559.3" cy="793.2" r="6.5"/>
<circle cx="1565.1" cy="790.7" r="6.5"/>
<circle cx="1570.8" cy="790.1" r="6.5"/>
<circle cx="1576.5" cy="789.6" r="6.5"/>
<circle cx="1582.3" cy="789.2" r="6.5"/>
<circle cx="1588.0" cy="788.8" r="6.5"/>
<circle cx="1593.8" cy="788.3" r="6.5"/>
<circle cx="1599.5" cy="787.9" r="6.5"/>
<circle cx="1605.2" cy="785.9" r="6.5"/>
<circle cx="1611.0" cy="781.0" r="6.5"/>
<circle cx="1616.7" cy="780.3" r="6.5"/>
<circle cx="1622.5" cy="779.7" r="6.5"/>
<circle cx="1628.2" cy="779.2" r="6.5"/>
<circle cx="1633.9" cy="778.7" r="6.5"/>
<circle cx="1639.7" cy="778.1" r="6.5"/>
<circle cx="1645.4" cy="777.6" r="6.5"/>
<circle cx="1651.1" cy="776.9" r="6.5"/>
<circle cx="1656.9" cy="776.1" r="6.5"/>
<circle cx="1662.6" cy="775.2" r="6.5"/>
<circle cx="1668.4" cy="774.3" r="6.5"/>
<circle cx="1674.1" cy="773.6" r="6.5"/>
<circle cx="1679.8" cy="773.1" r="6.5"/>
<circle cx="1685.6" cy="772.6" r="6.5"/>
<circle cx="1691.3" cy="772.1" r="6.5"/>
<circle cx="1697.1" cy="771.6" r="6.5"/>
<circle cx="1702.8" cy="771.0" r="6.5"/>
<circle cx="1708.5" cy="770.5" r="6.5"/>
<circle cx="1714.3" cy="770.0" r="6.5"/>
<circle cx="1720.0" cy="769.5" r="6.5"/>
<circle cx="1725.7" cy="768.9" r="6.5"/>
<circle cx="1731.5" cy="768.4" r="6.5"/>
<circle cx="1737.2" cy="767.9" r="6.5"/>
<circle cx="1743.0" cy="767.4" r="6.5"/>
<circle cx="1748.7" cy="766.8" r="6.5"/>
<circle cx="1754.4" cy="766.3" r="6.5"/>
<circle cx="1760.2" cy="765.6" r="6.5"/>
<circle cx="1765.9" cy="764.6" r="6.5"/>
<circle cx="1771.7" cy="763.6" r="6.5"/>
<circle cx="1777.4" cy="763.0" r="6.5"/>
<circle cx="1783.1" cy="762.9" r="6.5"/>
<circle cx="1788.9" cy="762.7" r="6.5"/>
<circle cx="1794.6" cy="762.5" r="6.5"/>
<circle cx="1800.4" cy="762.3" r="6.5"/>
<circle cx="1806.1" cy="762.1" r="6.5"/>
<circle cx="1811.8" cy="761.9" r="6.5"/>
<circle cx="1817.6" cy="761.8" r="6.5"/>
<circle cx="1823.3" cy="761.6" r="6.5"/>
<circle cx="1829.0" cy="761.5" r="6.5"/>
<circle cx="1834.8" cy="761.3" r="6.5"/>
<circle cx="1840.5" cy="761.2" r="6.5"/>
</g>
<g fill="#4466d8" fill-opacity="0.92">
<circle cx="1513.2" cy="806.1" r="7.2"/>
<circle cx="1557.1" cy="794.6" r="7.2"/>
<circle cx="1561.6" cy="791.9" r="7.2"/>
<circle cx="1608.5" cy="781.4" r="7.2"/>
<circle cx="1650.3" cy="777.1" r="7.2"/>
</g></g>
<rect x="1496.20" y="644.80" width="347.80" height="176.20" fill="none" stroke="#000" stroke-width="1.5"/>
<g stroke="#000" stroke-width="1.5">
<line x1="1496.2" y1="604.0" x2="1496.2" y2="609.2"/>
<line x1="1496.2" y1="821.0" x2="1496.2" y2="826.2"/>
<line x1="1583.2" y1="604.0" x2="1583.2" y2="609.2"/>
<line x1="1583.2" y1="821.0" x2="1583.2" y2="826.2"/>
<line x1="1670.1" y1="604.0" x2="1670.1" y2="609.2"/>
<line x1="1670.1" y1="821.0" x2="1670.1" y2="826.2"/>
<line x1="1757.0" y1="604.0" x2="1757.0" y2="609.2"/>
<line x1="1757.0" y1="821.0" x2="1757.0" y2="826.2"/>
<line x1="1844.0" y1="604.0" x2="1844.0" y2="609.2"/>
<line x1="1844.0" y1="821.0" x2="1844.0" y2="826.2"/>
<line x1="1491.0" y1="604.0" x2="1496.2" y2="604.0"/>
<line x1="1491.0" y1="821.0" x2="1496.2" y2="821.0"/>
<line x1="1491.0" y1="516.3" x2="1496.2" y2="516.3"/>
<line x1="1491.0" y1="732.9" x2="1496.2" y2="732.9"/>
<line x1="1491.0" y1="428.6" x2="1496.2" y2="428.6"/>
<line x1="1491.0" y1="644.8" x2="1496.2" y2="644.8"/>
</g>
<text x="1486.60" y="613.80" font-size="26.6" text-anchor="end" fill="#000">0.0</text>
<text x="1486.60" y="526.10" font-size="26.6" text-anchor="end" fill="#000">0.2</text>
<text x="1486.60" y="438.40" font-size="26.6" text-anchor="end" fill="#000">0.4</text>
<text x="1486.60" y="830.80" font-size="26.6" text-anchor="end" fill="#000">0.0</text>
<text x="1486.60" y="742.70" font-size="26.6" text-anchor="end" fill="#000">1.5</text>
<text x="1486.60" y="654.60" font-size="26.6" text-anchor="end" fill="#000">3.0</text>
<text x="1496.20" y="851.40" font-size="26.6" text-anchor="middle" fill="#000">0</text>
<text x="1583.15" y="851.40" font-size="26.6" text-anchor="middle" fill="#000">25</text>
<text x="1670.10" y="851.40" font-size="26.6" text-anchor="middle" fill="#000">50</text>
<text x="1757.05" y="851.40" font-size="26.6" text-anchor="middle" fill="#000">75</text>
<text x="1844.00" y="851.40" font-size="26.6" text-anchor="middle" fill="#000">100</text>
<text x="1670.10" y="887.50" font-size="32" text-anchor="middle" fill="#000">time [s]</text>
<text transform="translate(50.7 501) rotate(-90)" font-size="31.3" text-anchor="middle">K [µm<tspan dy="-11.3" font-size="22">2</tspan><tspan dy="11.3">]</tspan></text>
<text transform="translate(49 734) rotate(-90)" font-size="32.5" text-anchor="middle">CSD [µm<tspan dy="-11.5" font-size="22.8">2</tspan><tspan dy="11.5">]</tspan></text>
<clipPath id="pbclip"><rect x="155.6" y="1342.7" width="986.3000000000001" height="367.29999999999995"/></clipPath>
<g fill="none" stroke-width="3.7" stroke-dasharray="5.6 3.7">
<line x1="41.7" y1="1324" x2="189.3" y2="1656" stroke="#6a62dc"/>
<line x1="354.5" y1="1324" x2="549.2" y2="1656" stroke="#6a62dc"/>
<line x1="377" y1="1321.8" x2="569" y2="1370.8" stroke="#5cba4c"/>
<line x1="817.8" y1="1322.5" x2="757" y2="1369" stroke="#5cba4c"/>
<line x1="833.8" y1="1323.5" x2="808" y2="1345" stroke="#564cd8"/>
<line x1="1143" y1="1324" x2="1090.5" y2="1346" stroke="#564cd8"/>
</g>
<rect x="155.60" y="1342.70" width="986.30" height="367.30" fill="none" stroke="#000" stroke-width="1.6"/>
<g clip-path="url(#pbclip)">
<circle cx="200.0" cy="1701.0" r="7.3" fill="#d2d2d2" fill-opacity="0.95" stroke="#6e6e6e" stroke-width="1.3" stroke-opacity="0.9"/>
<circle cx="205.9" cy="1700.7" r="7.3" fill="#d2d2d2" fill-opacity="0.95" stroke="#6e6e6e" stroke-width="1.3" stroke-opacity="0.9"/>
<circle cx="211.8" cy="1700.4" r="7.3" fill="#d2d2d2" fill-opacity="0.95" stroke="#6e6e6e" stroke-width="1.3" stroke-opacity="0.9"/>
<circle cx="217.6" cy="1700.1" r="7.3" fill="#d2d2d2" fill-opacity="0.95" stroke="#6e6e6e" stroke-width="1.3" stroke-opacity="0.9"/>
<circle cx="223.5" cy="1699.8" r="7.3" fill="#d2d2d2" fill-opacity="0.95" stroke="#6e6e6e" stroke-width="1.3" stroke-opacity="0.9"/>
<circle cx="229.4" cy="1699.5" r="7.3" fill="#d2d2d2" fill-opacity="0.95" stroke="#6e6e6e" stroke-width="1.3" stroke-opacity="0.9"/>
<circle cx="235.3" cy="1699.2" r="7.3" fill="#d2d2d2" fill-opacity="0.95" stroke="#6e6e6e" stroke-width="1.3" stroke-opacity="0.9"/>
<circle cx="241.2" cy="1698.9" r="7.3" fill="#d2d2d2" fill-opacity="0.95" stroke="#6e6e6e" stroke-width="1.3" stroke-opacity="0.9"/>
<circle cx="247.0" cy="1698.6" r="7.3" fill="#d2d2d2" fill-opacity="0.95" stroke="#6e6e6e" stroke-width="1.3" stroke-opacity="0.9"/>
<circle cx="252.9" cy="1698.3" r="7.3" fill="#d2d2d2" fill-opacity="0.95" stroke="#6e6e6e" stroke-width="1.3" stroke-opacity="0.9"/>
<circle cx="258.8" cy="1698.0" r="7.3" fill="#d2d2d2" fill-opacity="0.95" stroke="#6e6e6e" stroke-width="1.3" stroke-opacity="0.9"/>
<circle cx="264.7" cy="1697.7" r="7.3" fill="#d2d2d2" fill-opacity="0.95" stroke="#6e6e6e" stroke-width="1.3" stroke-opacity="0.9"/>
<circle cx="270.6" cy="1697.4" r="7.3" fill="#d2d2d2" fill-opacity="0.95" stroke="#6e6e6e" stroke-width="1.3" stroke-opacity="0.9"/>
<circle cx="276.4" cy="1697.1" r="7.3" fill="#d2d2d2" fill-opacity="0.95" stroke="#6e6e6e" stroke-width="1.3" stroke-opacity="0.9"/>
<circle cx="282.3" cy="1696.8" r="7.3" fill="#d2d2d2" fill-opacity="0.95" stroke="#6e6e6e" stroke-width="1.3" stroke-opacity="0.9"/>
<circle cx="288.2" cy="1696.5" r="7.3" fill="#d2d2d2" fill-opacity="0.95" stroke="#6e6e6e" stroke-width="1.3" stroke-opacity="0.9"/>
<circle cx="294.1" cy="1696.2" r="7.3" fill="#d2d2d2" fill-opacity="0.95" stroke="#6e6e6e" stroke-width="1.3" stroke-opacity="0.9"/>
<circle cx="300.0" cy="1695.9" r="7.3" fill="#d2d2d2" fill-opacity="0.95" stroke="#6e6e6e" stroke-width="1.3" stroke-opacity="0.9"/>
<circle cx="305.9" cy="1695.6" r="7.3" fill="#d2d2d2" fill-opacity="0.95" stroke="#6e6e6e" stroke-width="1.3" stroke-opacity="0.9"/>
<circle cx="311.7" cy="1695.3" r="7.3" fill="#d2d2d2" fill-opacity="0.95" stroke="#6e6e6e" stroke-width="1.3" stroke-opacity="0.9"/>
<circle cx="317.6" cy="1695.0" r="7.3" fill="#d2d2d2" fill-opacity="0.95" stroke="#6e6e6e" stroke-width="1.3" stroke-opacity="0.9"/>
<circle cx="323.5" cy="1694.7" r="7.3" fill="#d2d2d2" fill-opacity="0.95" stroke="#6e6e6e" stroke-width="1.3" stroke-opacity="0.9"/>
<circle cx="329.4" cy="1694.4" r="7.3" fill="#d2d2d2" fill-opacity="0.95" stroke="#6e6e6e" stroke-width="1.3" stroke-opacity="0.9"/>
<circle cx="335.3" cy="1694.1" r="7.3" fill="#d2d2d2" fill-opacity="0.95" stroke="#6e6e6e" stroke-width="1.3" stroke-opacity="0.9"/>
<circle cx="341.1" cy="1693.8" r="7.3" fill="#d2d2d2" fill-opacity="0.95" stroke="#6e6e6e" stroke-width="1.3" stroke-opacity="0.9"/>
<circle cx="347.0" cy="1693.5" r="7.3" fill="#d2d2d2" fill-opacity="0.95" stroke="#6e6e6e" stroke-width="1.3" stroke-opacity="0.9"/>
<circle cx="352.9" cy="1693.2" r="7.3" fill="#d2d2d2" fill-opacity="0.95" stroke="#6e6e6e" stroke-width="1.3" stroke-opacity="0.9"/>
<circle cx="358.8" cy="1692.9" r="7.3" fill="#d2d2d2" fill-opacity="0.95" stroke="#6e6e6e" stroke-width="1.3" stroke-opacity="0.9"/>
<circle cx="364.7" cy="1692.6" r="7.3" fill="#d2d2d2" fill-opacity="0.95" stroke="#6e6e6e" stroke-width="1.3" stroke-opacity="0.9"/>
<circle cx="370.5" cy="1692.3" r="7.3" fill="#d2d2d2" fill-opacity="0.95" stroke="#6e6e6e" stroke-width="1.3" stroke-opacity="0.9"/>
<circle cx="376.4" cy="1692.0" r="7.3" fill="#d2d2d2" fill-opacity="0.95" stroke="#6e6e6e" stroke-width="1.3" stroke-opacity="0.9"/>
<circle cx="382.3" cy="1691.7" r="7.3" fill="#d2d2d2" fill-opacity="0.95" stroke="#6e6e6e" stroke-width="1.3" stroke-opacity="0.9"/>
<circle cx="388.2" cy="1691.4" r="7.3" fill="#d2d2d2" fill-opacity="0.95" stroke="#6e6e6e" stroke-width="1.3" stroke-opacity="0.9"/>
<circle cx="394.1" cy="1691.1" r="7.3" fill="#d2d2d2" fill-opacity="0.95" stroke="#6e6e6e" stroke-width="1.3" stroke-opacity="0.9"/>
<circle cx="399.9" cy="1690.8" r="7.3" fill="#d2d2d2" fill-opacity="0.95" stroke="#6e6e6e" stroke-width="1.3" stroke-opacity="0.9"/>
<circle cx="405.8" cy="1690.5" r="7.3" fill="#d2d2d2" fill-opacity="0.95" stroke="#6e6e6e" stroke-width="1.3" stroke-opacity="0.9"/>
<circle cx="411.7" cy="1690.2" r="7.3" fill="#d2d2d2" fill-opacity="0.95" stroke="#6e6e6e" stroke-width="1.3" stroke-opacity="0.9"/>
<circle cx="417.6" cy="1689.9" r="7.3" fill="#d2d2d2" fill-opacity="0.95" stroke="#6e6e6e" stroke-width="1.3" stroke-opacity="0.9"/>
<circle cx="423.5" cy="1689.6" r="7.3" fill="#d2d2d2" fill-opacity="0.95" stroke="#6e6e6e" stroke-width="1.3" stroke-opacity="0.9"/>
<circle cx="429.3" cy="1689.3" r="7.3" fill="#d2d2d2" fill-opacity="0.95" stroke="#6e6e6e" stroke-width="1.3" stroke-opacity="0.9"/>
<circle cx="435.2" cy="1689.0" r="7.3" fill="#d2d2d2" fill-opacity="0.95" stroke="#6e6e6e" stroke-width="1.3" stroke-opacity="0.9"/>
<circle cx="441.1" cy="1688.7" r="7.3" fill="#d2d2d2" fill-opacity="0.95" stroke="#6e6e6e" stroke-width="1.3" stroke-opacity="0.9"/>
<circle cx="447.0" cy="1688.4" r="7.3" fill="#d2d2d2" fill-opacity="0.95" stroke="#6e6e6e" stroke-width="1.3" stroke-opacity="0.9"/>
<circle cx="452.9" cy="1688.1" r="7.3" fill="#d2d2d2" fill-opacity="0.95" stroke="#6e6e6e" stroke-width="1.3" stroke-opacity="0.9"/>
<circle cx="458.7" cy="1687.8" r="7.3" fill="#d2d2d2" fill-opacity="0.95" stroke="#6e6e6e" stroke-width="1.3" stroke-opacity="0.9"/>
<circle cx="464.6" cy="1687.5" r="7.3" fill="#d2d2d2" fill-opacity="0.95" stroke="#6e6e6e" stroke-width="1.3" stroke-opacity="0.9"/>
<circle cx="470.5" cy="1687.2" r="7.3" fill="#d2d2d2" fill-opacity="0.95" stroke="#6e6e6e" stroke-width="1.3" stroke-opacity="0.9"/>
<circle cx="476.4" cy="1686.9" r="7.3" fill="#d2d2d2" fill-opacity="0.95" stroke="#6e6e6e" stroke-width="1.3" stroke-opacity="0.9"/>
<circle cx="482.3" cy="1686.6" r="7.3" fill="#d2d2d2" fill-opacity="0.95" stroke="#6e6e6e" stroke-width="1.3" stroke-opacity="0.9"/>
<circle cx="488.1" cy="1686.3" r="7.3" fill="#d2d2d2" fill-opacity="0.95" stroke="#6e6e6e" stroke-width="1.3" stroke-opacity="0.9"/>
<circle cx="494.0" cy="1686.0" r="7.3" fill="#d2d2d2" fill-opacity="0.95" stroke="#6e6e6e" stroke-width="1.3" stroke-opacity="0.9"/>
<circle cx="499.9" cy="1685.7" r="7.3" fill="#d2d2d2" fill-opacity="0.95" stroke="#6e6e6e" stroke-width="1.3" stroke-opacity="0.9"/>
<circle cx="505.8" cy="1685.4" r="7.3" fill="#d2d2d2" fill-opacity="0.95" stroke="#6e6e6e" stroke-width="1.3" stroke-opacity="0.9"/>
<circle cx="511.7" cy="1685.1" r="7.3" fill="#d2d2d2" fill-opacity="0.95" stroke="#6e6e6e" stroke-width="1.3" stroke-opacity="0.9"/>
<circle cx="517.6" cy="1684.8" r="7.3" fill="#d2d2d2" fill-opacity="0.95" stroke="#6e6e6e" stroke-width="1.3" stroke-opacity="0.9"/>
<circle cx="523.4" cy="1684.5" r="7.3" fill="#d2d2d2" fill-opacity="0.95" stroke="#6e6e6e" stroke-width="1.3" stroke-opacity="0.9"/>
<circle cx="529.3" cy="1684.2" r="7.3" fill="#d2d2d2" fill-opacity="0.95" stroke="#6e6e6e" stroke-width="1.3" stroke-opacity="0.9"/>
<circle cx="535.2" cy="1683.9" r="7.3" fill="#d2d2d2" fill-opacity="0.95" stroke="#6e6e6e" stroke-width="1.3" stroke-opacity="0.9"/>
<circle cx="541.1" cy="1683.6" r="7.3" fill="#d2d2d2" fill-opacity="0.95" stroke="#6e6e6e" stroke-width="1.3" stroke-opacity="0.9"/>
<circle cx="547.0" cy="1683.3" r="7.3" fill="#d2d2d2" fill-opacity="0.95" stroke="#6e6e6e" stroke-width="1.3" stroke-opacity="0.9"/>
<circle cx="552.8" cy="1683.0" r="7.3" fill="#d2d2d2" fill-opacity="0.95" stroke="#6e6e6e" stroke-width="1.3" stroke-opacity="0.9"/>
<circle cx="558.7" cy="1682.7" r="7.3" fill="#d2d2d2" fill-opacity="0.95" stroke="#6e6e6e" stroke-width="1.3" stroke-opacity="0.9"/>
<circle cx="564.6" cy="1682.4" r="7.3" fill="#d2d2d2" fill-opacity="0.95" stroke="#6e6e6e" stroke-width="1.3" stroke-opacity="0.9"/>
<circle cx="570.5" cy="1682.1" r="7.3" fill="#d2d2d2" fill-opacity="0.95" stroke="#6e6e6e" stroke-width="1.3" stroke-opacity="0.9"/>
<circle cx="576.4" cy="1681.8" r="7.3" fill="#d2d2d2" fill-opacity="0.95" stroke="#6e6e6e" stroke-width="1.3" stroke-opacity="0.9"/>
<circle cx="585.1" cy="1669.9" r="9.0" fill="#b23a78" fill-opacity="0.85" stroke="#a62d6c" stroke-width="2" stroke-opacity="0.9"/>
<circle cx="591.0" cy="1644.9" r="9.0" fill="#b23a78" fill-opacity="0.85" stroke="#a62d6c" stroke-width="2" stroke-opacity="0.9"/>
<circle cx="596.4" cy="1629.0" r="9.0" fill="#b23a78" fill-opacity="0.85" stroke="#a62d6c" stroke-width="2" stroke-opacity="0.9"/>
<circle cx="602.9" cy="1618.2" r="9.0" fill="#b23a78" fill-opacity="0.85" stroke="#a62d6c" stroke-width="2" stroke-opacity="0.9"/>
<circle cx="608.7" cy="1615.5" r="9.0" fill="#b23a78" fill-opacity="0.85" stroke="#a62d6c" stroke-width="2" stroke-opacity="0.9"/>
<circle cx="614.2" cy="1614.4" r="8.0" fill="#c080a0" fill-opacity="0.8" stroke="#906080" stroke-width="2" stroke-opacity="0.9"/>
<circle cx="621.8" cy="1613.9" r="7.3" fill="#d2d2d2" fill-opacity="0.95" stroke="#6e6e6e" stroke-width="1.3" stroke-opacity="0.9"/>
<circle cx="627.3" cy="1594.6" r="9.0" fill="#f7a428" fill-opacity="0.85" stroke="#e8921a" stroke-width="2" stroke-opacity="0.9"/>
<circle cx="633.1" cy="1563.0" r="9.0" fill="#f7a428" fill-opacity="0.85" stroke="#e8921a" stroke-width="2" stroke-opacity="0.9"/>
<circle cx="639.2" cy="1487.3" r="9.0" fill="#f7a428" fill-opacity="0.85" stroke="#e8921a" stroke-width="2" stroke-opacity="0.9"/>
<circle cx="645.0" cy="1451.7" r="9.0" fill="#f7a428" fill-opacity="0.85" stroke="#e8921a" stroke-width="2" stroke-opacity="0.9"/>
<circle cx="650.8" cy="1446.3" r="9.0" fill="#f7a428" fill-opacity="0.85" stroke="#e8921a" stroke-width="2" stroke-opacity="0.9"/>
<circle cx="657.4" cy="1445.2" r="9.0" fill="#f7a428" fill-opacity="0.85" stroke="#e8921a" stroke-width="2" stroke-opacity="0.9"/>
<circle cx="663.6" cy="1431.3" r="9.0" fill="#f7a428" fill-opacity="0.85" stroke="#e8921a" stroke-width="2" stroke-opacity="0.9"/>
<circle cx="669.4" cy="1430.8" r="9.0" fill="#f7a428" fill-opacity="0.85" stroke="#e8921a" stroke-width="2" stroke-opacity="0.9"/>
<circle cx="678.1" cy="1429.6" r="7.3" fill="#d2d2d2" fill-opacity="0.95" stroke="#6e6e6e" stroke-width="1.3" stroke-opacity="0.9"/>
<circle cx="683.9" cy="1428.7" r="7.3" fill="#d2d2d2" fill-opacity="0.95" stroke="#6e6e6e" stroke-width="1.3" stroke-opacity="0.9"/>
<circle cx="689.7" cy="1427.8" r="7.3" fill="#d2d2d2" fill-opacity="0.95" stroke="#6e6e6e" stroke-width="1.3" stroke-opacity="0.9"/>
<circle cx="697.3" cy="1423.7" r="9.0" fill="#6c70dc" fill-opacity="0.85" stroke="#6c70dc" stroke-width="2" stroke-opacity="0.9"/>
<circle cx="703.8" cy="1421.5" r="9.0" fill="#6c70dc" fill-opacity="0.85" stroke="#6c70dc" stroke-width="2" stroke-opacity="0.9"/>
<circle cx="710.0" cy="1420.6" r="9.0" fill="#6c70dc" fill-opacity="0.85" stroke="#6c70dc" stroke-width="2" stroke-opacity="0.9"/>
<circle cx="717.6" cy="1422.7" r="7.3" fill="#d2d2d2" fill-opacity="0.95" stroke="#6e6e6e" stroke-width="1.3" stroke-opacity="0.9"/>
<circle cx="723.1" cy="1414.0" r="9.0" fill="#9cd23c" fill-opacity="0.85" stroke="#9cd23c" stroke-width="2" stroke-opacity="0.9"/>
<circle cx="729.3" cy="1410.1" r="9.0" fill="#9cd23c" fill-opacity="0.85" stroke="#9cd23c" stroke-width="2" stroke-opacity="0.9"/>
<circle cx="735.1" cy="1386.4" r="9.0" fill="#9cd23c" fill-opacity="0.85" stroke="#9cd23c" stroke-width="2" stroke-opacity="0.9"/>
<circle cx="741.6" cy="1383.9" r="9.0" fill="#9cd23c" fill-opacity="0.85" stroke="#9cd23c" stroke-width="2" stroke-opacity="0.9"/>
<circle cx="747.4" cy="1383.0" r="8.0" fill="#b8d890" fill-opacity="0.8" stroke="#90a878" stroke-width="2" stroke-opacity="0.9"/>
<circle cx="753.2" cy="1382.7" r="7.3" fill="#d2d2d2" fill-opacity="0.95" stroke="#6e6e6e" stroke-width="1.3" stroke-opacity="0.9"/>
<circle cx="759.1" cy="1382.4" r="7.3" fill="#d2d2d2" fill-opacity="0.95" stroke="#6e6e6e" stroke-width="1.3" stroke-opacity="0.9"/>
<circle cx="765.0" cy="1382.0" r="7.3" fill="#d2d2d2" fill-opacity="0.95" stroke="#6e6e6e" stroke-width="1.3" stroke-opacity="0.9"/>
<circle cx="770.9" cy="1381.6" r="7.3" fill="#d2d2d2" fill-opacity="0.95" stroke="#6e6e6e" stroke-width="1.3" stroke-opacity="0.9"/>
<circle cx="776.7" cy="1381.2" r="7.3" fill="#d2d2d2" fill-opacity="0.95" stroke="#6e6e6e" stroke-width="1.3" stroke-opacity="0.9"/>
<circle cx="782.6" cy="1380.8" r="7.3" fill="#d2d2d2" fill-opacity="0.95" stroke="#6e6e6e" stroke-width="1.3" stroke-opacity="0.9"/>
<circle cx="788.5" cy="1380.4" r="7.3" fill="#d2d2d2" fill-opacity="0.95" stroke="#6e6e6e" stroke-width="1.3" stroke-opacity="0.9"/>
<circle cx="794.4" cy="1380.0" r="7.3" fill="#d2d2d2" fill-opacity="0.95" stroke="#6e6e6e" stroke-width="1.3" stroke-opacity="0.9"/>
<circle cx="800.3" cy="1379.7" r="7.3" fill="#d2d2d2" fill-opacity="0.95" stroke="#6e6e6e" stroke-width="1.3" stroke-opacity="0.9"/>
<circle cx="806.1" cy="1379.3" r="7.3" fill="#d2d2d2" fill-opacity="0.95" stroke="#6e6e6e" stroke-width="1.3" stroke-opacity="0.9"/>
<circle cx="812.0" cy="1378.9" r="7.3" fill="#d2d2d2" fill-opacity="0.95" stroke="#6e6e6e" stroke-width="1.3" stroke-opacity="0.9"/>
<circle cx="817.9" cy="1378.5" r="7.3" fill="#d2d2d2" fill-opacity="0.95" stroke="#6e6e6e" stroke-width="1.3" stroke-opacity="0.9"/>
<circle cx="823.8" cy="1378.1" r="7.3" fill="#d2d2d2" fill-opacity="0.95" stroke="#6e6e6e" stroke-width="1.3" stroke-opacity="0.9"/>
<circle cx="829.7" cy="1377.7" r="7.3" fill="#d2d2d2" fill-opacity="0.95" stroke="#6e6e6e" stroke-width="1.3" stroke-opacity="0.9"/>
<circle cx="835.5" cy="1377.3" r="7.3" fill="#d2d2d2" fill-opacity="0.95" stroke="#6e6e6e" stroke-width="1.3" stroke-opacity="0.9"/>
<circle cx="841.4" cy="1376.9" r="7.3" fill="#d2d2d2" fill-opacity="0.95" stroke="#6e6e6e" stroke-width="1.3" stroke-opacity="0.9"/>
<circle cx="847.3" cy="1376.5" r="7.3" fill="#d2d2d2" fill-opacity="0.95" stroke="#6e6e6e" stroke-width="1.3" stroke-opacity="0.9"/>
<circle cx="853.2" cy="1376.1" r="7.3" fill="#d2d2d2" fill-opacity="0.95" stroke="#6e6e6e" stroke-width="1.3" stroke-opacity="0.9"/>
<circle cx="859.1" cy="1375.7" r="7.3" fill="#d2d2d2" fill-opacity="0.95" stroke="#6e6e6e" stroke-width="1.3" stroke-opacity="0.9"/>
<circle cx="864.9" cy="1375.3" r="7.3" fill="#d2d2d2" fill-opacity="0.95" stroke="#6e6e6e" stroke-width="1.3" stroke-opacity="0.9"/>
<circle cx="870.8" cy="1375.0" r="7.3" fill="#d2d2d2" fill-opacity="0.95" stroke="#6e6e6e" stroke-width="1.3" stroke-opacity="0.9"/>
<circle cx="876.7" cy="1374.6" r="7.3" fill="#d2d2d2" fill-opacity="0.95" stroke="#6e6e6e" stroke-width="1.3" stroke-opacity="0.9"/>
<circle cx="882.6" cy="1374.2" r="7.3" fill="#d2d2d2" fill-opacity="0.95" stroke="#6e6e6e" stroke-width="1.3" stroke-opacity="0.9"/>
<circle cx="888.5" cy="1373.8" r="7.3" fill="#d2d2d2" fill-opacity="0.95" stroke="#6e6e6e" stroke-width="1.3" stroke-opacity="0.9"/>
<circle cx="894.3" cy="1373.4" r="7.3" fill="#d2d2d2" fill-opacity="0.95" stroke="#6e6e6e" stroke-width="1.3" stroke-opacity="0.9"/>
<circle cx="900.2" cy="1373.0" r="7.3" fill="#d2d2d2" fill-opacity="0.95" stroke="#6e6e6e" stroke-width="1.3" stroke-opacity="0.9"/>
<circle cx="906.1" cy="1372.6" r="7.3" fill="#d2d2d2" fill-opacity="0.95" stroke="#6e6e6e" stroke-width="1.3" stroke-opacity="0.9"/>
<circle cx="912.0" cy="1372.2" r="7.3" fill="#d2d2d2" fill-opacity="0.95" stroke="#6e6e6e" stroke-width="1.3" stroke-opacity="0.9"/>
<circle cx="917.9" cy="1371.8" r="7.3" fill="#d2d2d2" fill-opacity="0.95" stroke="#6e6e6e" stroke-width="1.3" stroke-opacity="0.9"/>
<circle cx="923.7" cy="1371.5" r="7.3" fill="#d2d2d2" fill-opacity="0.95" stroke="#6e6e6e" stroke-width="1.3" stroke-opacity="0.9"/>
<circle cx="929.6" cy="1371.1" r="7.3" fill="#d2d2d2" fill-opacity="0.95" stroke="#6e6e6e" stroke-width="1.3" stroke-opacity="0.9"/>
<circle cx="935.5" cy="1370.7" r="7.3" fill="#d2d2d2" fill-opacity="0.95" stroke="#6e6e6e" stroke-width="1.3" stroke-opacity="0.9"/>
<circle cx="941.4" cy="1370.3" r="7.3" fill="#d2d2d2" fill-opacity="0.95" stroke="#6e6e6e" stroke-width="1.3" stroke-opacity="0.9"/>
<circle cx="947.3" cy="1369.9" r="7.3" fill="#d2d2d2" fill-opacity="0.95" stroke="#6e6e6e" stroke-width="1.3" stroke-opacity="0.9"/>
<circle cx="953.2" cy="1369.5" r="7.3" fill="#d2d2d2" fill-opacity="0.95" stroke="#6e6e6e" stroke-width="1.3" stroke-opacity="0.9"/>
<circle cx="959.0" cy="1369.2" r="7.3" fill="#d2d2d2" fill-opacity="0.95" stroke="#6e6e6e" stroke-width="1.3" stroke-opacity="0.9"/>
<circle cx="964.9" cy="1368.9" r="7.3" fill="#d2d2d2" fill-opacity="0.95" stroke="#6e6e6e" stroke-width="1.3" stroke-opacity="0.9"/>
<circle cx="970.8" cy="1368.6" r="7.3" fill="#d2d2d2" fill-opacity="0.95" stroke="#6e6e6e" stroke-width="1.3" stroke-opacity="0.9"/>
<circle cx="976.7" cy="1368.2" r="7.3" fill="#d2d2d2" fill-opacity="0.95" stroke="#6e6e6e" stroke-width="1.3" stroke-opacity="0.9"/>
<circle cx="982.6" cy="1367.9" r="7.3" fill="#d2d2d2" fill-opacity="0.95" stroke="#6e6e6e" stroke-width="1.3" stroke-opacity="0.9"/>
<circle cx="988.4" cy="1367.6" r="7.3" fill="#d2d2d2" fill-opacity="0.95" stroke="#6e6e6e" stroke-width="1.3" stroke-opacity="0.9"/>
<circle cx="994.3" cy="1367.3" r="7.3" fill="#d2d2d2" fill-opacity="0.95" stroke="#6e6e6e" stroke-width="1.3" stroke-opacity="0.9"/>
<circle cx="1000.2" cy="1367.0" r="7.3" fill="#d2d2d2" fill-opacity="0.95" stroke="#6e6e6e" stroke-width="1.3" stroke-opacity="0.9"/>
<circle cx="1006.1" cy="1366.6" r="7.3" fill="#d2d2d2" fill-opacity="0.95" stroke="#6e6e6e" stroke-width="1.3" stroke-opacity="0.9"/>
<circle cx="1012.0" cy="1366.3" r="7.3" fill="#d2d2d2" fill-opacity="0.95" stroke="#6e6e6e" stroke-width="1.3" stroke-opacity="0.9"/>
<circle cx="1017.8" cy="1366.0" r="7.3" fill="#d2d2d2" fill-opacity="0.95" stroke="#6e6e6e" stroke-width="1.3" stroke-opacity="0.9"/>
<circle cx="1023.7" cy="1365.7" r="7.3" fill="#d2d2d2" fill-opacity="0.95" stroke="#6e6e6e" stroke-width="1.3" stroke-opacity="0.9"/>
<circle cx="1029.6" cy="1365.4" r="7.3" fill="#d2d2d2" fill-opacity="0.95" stroke="#6e6e6e" stroke-width="1.3" stroke-opacity="0.9"/>
<circle cx="1035.5" cy="1365.0" r="7.3" fill="#d2d2d2" fill-opacity="0.95" stroke="#6e6e6e" stroke-width="1.3" stroke-opacity="0.9"/>
<circle cx="1041.4" cy="1364.7" r="7.3" fill="#d2d2d2" fill-opacity="0.95" stroke="#6e6e6e" stroke-width="1.3" stroke-opacity="0.9"/>
<circle cx="1047.2" cy="1364.3" r="7.3" fill="#d2d2d2" fill-opacity="0.95" stroke="#6e6e6e" stroke-width="1.3" stroke-opacity="0.9"/>
<circle cx="1053.1" cy="1364.0" r="7.3" fill="#d2d2d2" fill-opacity="0.95" stroke="#6e6e6e" stroke-width="1.3" stroke-opacity="0.9"/>
<circle cx="1059.0" cy="1363.6" r="7.3" fill="#d2d2d2" fill-opacity="0.95" stroke="#6e6e6e" stroke-width="1.3" stroke-opacity="0.9"/>
<circle cx="1064.9" cy="1363.2" r="7.3" fill="#d2d2d2" fill-opacity="0.95" stroke="#6e6e6e" stroke-width="1.3" stroke-opacity="0.9"/>
<circle cx="1070.8" cy="1362.9" r="7.3" fill="#d2d2d2" fill-opacity="0.95" stroke="#6e6e6e" stroke-width="1.3" stroke-opacity="0.9"/>
<circle cx="1076.6" cy="1362.6" r="7.3" fill="#d2d2d2" fill-opacity="0.95" stroke="#6e6e6e" stroke-width="1.3" stroke-opacity="0.9"/>
<circle cx="1082.5" cy="1362.3" r="7.3" fill="#d2d2d2" fill-opacity="0.95" stroke="#6e6e6e" stroke-width="1.3" stroke-opacity="0.9"/>
<circle cx="1088.4" cy="1362.0" r="7.3" fill="#d2d2d2" fill-opacity="0.95" stroke="#6e6e6e" stroke-width="1.3" stroke-opacity="0.9"/>
<circle cx="1094.3" cy="1361.7" r="7.3" fill="#d2d2d2" fill-opacity="0.95" stroke="#6e6e6e" stroke-width="1.3" stroke-opacity="0.9"/>
</g>
<rect x="188.7" y="1657.3" width="360" height="52.9" fill="none" stroke="#483cd8" stroke-width="4.8"/>
<rect x="571.9" y="1371.4" width="183.1" height="314.5" fill="none" stroke="#4db33d" stroke-width="8.6" stroke-linejoin="round"/>
<rect x="806" y="1347.5" width="302.2" height="48.3" fill="none" stroke="#483cd8" stroke-width="4.4"/>
<g stroke="#000" stroke-width="1.6">
<line x1="200.0" y1="1710.0" x2="200.0" y2="1717.7"/>
<line x1="381.5" y1="1710.0" x2="381.5" y2="1717.7"/>
<line x1="563.0" y1="1710.0" x2="563.0" y2="1717.7"/>
<line x1="744.5" y1="1710.0" x2="744.5" y2="1717.7"/>
<line x1="926.0" y1="1710.0" x2="926.0" y2="1717.7"/>
<line x1="1107.5" y1="1710.0" x2="1107.5" y2="1717.7"/>
<line x1="147.9" y1="1701.0" x2="155.6" y2="1701.0"/>
<line x1="147.9" y1="1611.4" x2="155.6" y2="1611.4"/>
<line x1="147.9" y1="1521.8" x2="155.6" y2="1521.8"/>
<line x1="147.9" y1="1432.3" x2="155.6" y2="1432.3"/>
<line x1="147.9" y1="1342.7" x2="155.6" y2="1342.7"/>
</g>
<text x="200.00" y="1752.30" font-size="35.4" text-anchor="middle" fill="#000">0</text>
<text x="381.50" y="1752.30" font-size="35.4" text-anchor="middle" fill="#000">50</text>
<text x="563.00" y="1752.30" font-size="35.4" text-anchor="middle" fill="#000">100</text>
<text x="744.50" y="1752.30" font-size="35.4" text-anchor="middle" fill="#000">150</text>
<text x="926.00" y="1752.30" font-size="35.4" text-anchor="middle" fill="#000">200</text>
<text x="1107.50" y="1752.30" font-size="35.4" text-anchor="middle" fill="#000">250</text>
<text x="140.80" y="1713.90" font-size="35.4" text-anchor="end" fill="#000">0</text>
<text x="140.80" y="1624.32" font-size="35.4" text-anchor="end" fill="#000">1</text>
<text x="140.80" y="1534.74" font-size="35.4" text-anchor="end" fill="#000">2</text>
<text x="140.80" y="1445.16" font-size="35.4" text-anchor="end" fill="#000">3</text>
<text x="140.80" y="1355.58" font-size="35.4" text-anchor="end" fill="#000">4</text>
<text x="648.00" y="1802.20" font-size="44.1" text-anchor="middle" fill="#000">time [s]</text>
<text transform="translate(95.8 1521.7) rotate(-90)" font-size="45.2" text-anchor="middle">CSD [µm<tspan dy="-16.5" font-size="31.6">2</tspan><tspan dy="16.5">]</tspan></text>
<g fill="#fff" stroke-width="8.8" stroke-linejoin="round">
<rect x="41.4" y="1074" width="311" height="244.6" stroke="#483cd8"/>
<rect x="365.6" y="1074" width="458" height="243.6" stroke="#4db33d"/>
<rect x="838.2" y="1074" width="310.6" height="244.6" stroke="#483cd8"/>
</g>
<clipPath id="mcb0"><rect x="51.5" y="1085.5" width="143.0" height="222.4"/></clipPath>
<g clip-path="url(#mcb0)">
<rect x="50.5" y="1084.5" width="145.0" height="224.4" fill="#0b4a0a"/>
<g transform="translate(40 1075) scale(0.13524)" fill="none" stroke-linecap="round" stroke-linejoin="round">

<path d="M720,370 C725.0,408.3 746.7,528.3 750,600 C753.3,671.7 748.3,733.3 740,800 C731.7,866.7 716.7,933.3 700,1000 C683.3,1066.7 650.0,1166.7 640,1200" stroke="#2cc428" stroke-width="72" opacity="0.98" filter="url(#bl2)"/>
<path d="M250,250 C275.0,263.3 341.7,288.3 400,330 C458.3,371.7 541.7,451.7 600,500 C658.3,548.3 725.0,600.0 750,620" stroke="#2cc428" stroke-width="67" opacity="0.8" filter="url(#bl2)"/>
<path d="M1150,540 C1125.0,525.0 1058.3,473.3 1000,450 C941.7,426.7 846.7,411.7 800,400 C753.3,388.3 733.3,383.3 720,380" stroke="#2cc428" stroke-width="72" opacity="0.8" filter="url(#bl2)"/>
<path d="M480,930 C533.3,955.0 713.3,1035.0 800,1080 C886.7,1125.0 941.7,1163.3 1000,1200 C1058.3,1236.7 1125.0,1283.3 1150,1300" stroke="#2cc428" stroke-width="67" opacity="0.8" filter="url(#bl2)"/>
<path d="M90,700 C125.0,733.3 231.7,858.3 300,900 C368.3,941.7 433.3,963.3 500,950 C566.7,936.7 666.7,841.7 700,820" stroke="#2cc428" stroke-width="67" opacity="0.75" filter="url(#bl2)"/>
<path d="M190,1250 C191.7,1291.7 190.0,1420.0 200,1500 C210.0,1580.0 241.7,1691.7 250,1730" stroke="#2cc428" stroke-width="72" opacity="0.85" filter="url(#bl2)"/>
<path d="M1110,1300 C1100.0,1333.3 1068.3,1428.3 1050,1500 C1031.7,1571.7 1008.3,1691.7 1000,1730" stroke="#2cc428" stroke-width="72" opacity="0.75" filter="url(#bl2)"/>
<path d="M90,450 C116.7,468.3 215.0,518.3 250,560 C285.0,601.7 291.7,676.7 300,700" stroke="#2cc428" stroke-width="67" opacity="0.6" filter="url(#bl2)"/>
<path d="M500,1500 C533.3,1483.3 633.3,1408.3 700,1400 C766.7,1391.7 866.7,1441.7 900,1450" stroke="#2cc428" stroke-width="72" opacity="0.5" filter="url(#bl2)"/>
<path d="M740,600 C766.7,616.7 831.7,673.3 900,700 C968.3,726.7 1108.3,750.0 1150,760" stroke="#2cc428" stroke-width="67" opacity="0.55" filter="url(#bl2)"/>
</g>
<rect x="51.5" y="1085.5" width="143.0" height="222.4" filter="url(#nzD)"/>
<rect x="51.5" y="1085.5" width="143.0" height="222.4" filter="url(#nzG)" opacity="0.4"/>
<g transform="translate(40 1075) scale(0.13524)" fill="none" stroke-linecap="round" stroke-linejoin="round">
<path d="M630,90 C640.0,116.7 673.3,208.3 690,250 C706.7,291.7 723.3,325.0 730,340" stroke="#ff2a08" stroke-width="75" opacity="0.92" filter="url(#bl1)"/>
<path d="M900,100 C886.7,125.0 842.5,211.7 820,250 C797.5,288.3 774.2,316.7 765,330" stroke="#ff2a08" stroke-width="70" opacity="0.9" filter="url(#bl1)"/>
<path d="M730,200 L760,300" stroke="#f09020" stroke-width="50" opacity="0.7" filter="url(#bl1)"/>
<path d="M930,190 L960,230" stroke="#ff2a08" stroke-width="80" opacity="0.8" filter="url(#bl1)"/>
<path d="M220,85 L320,85" stroke="#ff2a08" stroke-width="50" opacity="0.7" filter="url(#bl1)"/>
<path d="M1040,380 L1050,390" stroke="#ff2a08" stroke-width="95" opacity="0.95" filter="url(#bl1)"/>
<path d="M95,860 L115,880" stroke="#ff7010" stroke-width="60" opacity="0.9" filter="url(#bl1)"/>
<path d="M310,1100 L330,1120" stroke="#ff2a08" stroke-width="200" opacity="0.95" filter="url(#bl2)"/>
<path d="M500,1040 C501.7,1066.7 516.7,1143.3 510,1200 C503.3,1256.7 486.7,1323.3 460,1380 C433.3,1436.7 368.3,1513.3 350,1540" stroke="#ff2a08" stroke-width="62" opacity="0.95" filter="url(#bl1)"/>
<path d="M660,1105 L680,1115" stroke="#c02808" stroke-width="50" opacity="0.6" filter="url(#bl1)"/>
</g>
<rect x="51.5" y="1085.5" width="143.0" height="222.4" filter="url(#nzW)" opacity="0.22"/>
</g>
<g transform="translate(40 1075) scale(0.13524)" fill="#fff">
<rect x="740" y="1655" width="380" height="45"/>
</g>
<text x="154.9" y="1292.1" font-size="30.6" fill="#fff" text-anchor="middle">2 µm</text>
<clipPath id="mg0"><rect x="199.5" y="1085.5" width="143" height="222.4"/></clipPath>
<g clip-path="url(#mg0)">
<rect x="199.5" y="1085.5" width="143" height="222.4" fill="#020202"/>
<path d="M250.9,1214.3 C252.9,1217.9 263.5,1225.7 263.0,1235.9 C262.5,1246.2 250.6,1269.2 248.1,1275.8" fill="none" stroke="#a0a0a0" stroke-width="7.5" stroke-linecap="round" opacity="0.85" filter="url(#gbl3)"/>
<circle cx="230.6" cy="1223.8" r="15" fill="#b4b4b4" opacity="0.63" filter="url(#gbl)"/>
<circle cx="204.9" cy="1164.3" r="7" fill="#b4b4b4" opacity="0.64" filter="url(#gbl)"/>
<circle cx="204.9" cy="1210.2" r="8" fill="#b4b4b4" opacity="0.74" filter="url(#gbl)"/>
<circle cx="276.6" cy="1089.9" r="7" fill="#b4b4b4" opacity="0.46" filter="url(#gbl)"/>
<circle cx="307.7" cy="1091.2" r="7" fill="#b4b4b4" opacity="0.28" filter="url(#gbl)"/>
<rect x="199.5" y="1085.5" width="143" height="222.4" filter="url(#nzD)" opacity="0.55"/>
<path d="M250.9,1214.3 L263.0,1235.9 L248.1,1275.8" fill="none" stroke="#e81c24" stroke-width="1.6" stroke-linejoin="round"/>
</g>
<rect x="287.4" y="1299.2" width="52.4" height="6" fill="#fff"/>
<clipPath id="mg1"><rect x="374.7" y="1085.5" width="143" height="222.4"/></clipPath>
<g clip-path="url(#mg1)">
<rect x="374.7" y="1085.5" width="143" height="222.4" fill="#020202"/>
<path d="M450.3,1178.6 C448.2,1184.4 439.5,1204.6 437.7,1213.4 C435.9,1222.2 440.0,1225.6 439.3,1231.7 C438.6,1237.8 434.6,1246.9 433.7,1249.9" fill="none" stroke="#a0a0a0" stroke-width="7.5" stroke-linecap="round" opacity="0.85" filter="url(#gbl3)"/>
<circle cx="411.1" cy="1221.7" r="14.5" fill="#b4b4b4" opacity="0.63" filter="url(#gbl)"/>
<circle cx="378" cy="1208.5" r="8" fill="#b4b4b4" opacity="0.74" filter="url(#gbl)"/>
<circle cx="380" cy="1165" r="6" fill="#b4b4b4" opacity="0.55" filter="url(#gbl)"/>
<circle cx="448" cy="1092" r="6" fill="#b4b4b4" opacity="0.37" filter="url(#gbl)"/>
<rect x="374.7" y="1085.5" width="143" height="222.4" filter="url(#nzD)" opacity="0.55"/>
<path d="M450.3,1178.6 L437.7,1213.4 L439.3,1231.7 L433.7,1249.9" fill="none" stroke="#e81c24" stroke-width="1.6" stroke-linejoin="round"/>
</g>
<rect x="462.6" y="1299.2" width="52.4" height="6" fill="#fff"/>
<clipPath id="mg2"><rect x="522.9" y="1085.5" width="143" height="222.4"/></clipPath>
<g clip-path="url(#mg2)">
<rect x="522.9" y="1085.5" width="143" height="222.4" fill="#020202"/>
<path d="M605.1,1162 L586.9,1230" fill="none" stroke="#a0a0a0" stroke-width="7.5" stroke-linecap="round" opacity="0.85" filter="url(#gbl3)"/>
<circle cx="557" cy="1223.4" r="14.5" fill="#b4b4b4" opacity="0.63" filter="url(#gbl)"/>
<circle cx="530.5" cy="1175.3" r="7" fill="#b4b4b4" opacity="0.74" filter="url(#gbl)"/>
<circle cx="528.8" cy="1211.8" r="7" fill="#b4b4b4" opacity="0.64" filter="url(#gbl)"/>
<circle cx="600" cy="1092" r="6" fill="#b4b4b4" opacity="0.28" filter="url(#gbl)"/>
<rect x="522.9" y="1085.5" width="143" height="222.4" filter="url(#nzD)" opacity="0.55"/>
<path d="M605.1,1162 L586.9,1230" fill="none" stroke="#e81c24" stroke-width="1.6" stroke-linejoin="round"/>
</g>
<rect x="610.8" y="1299.2" width="52.4" height="6" fill="#fff"/>
<clipPath id="mg3"><rect x="670.7" y="1085.5" width="143" height="222.4"/></clipPath>
<g clip-path="url(#mg3)">
<rect x="670.7" y="1085.5" width="143" height="222.4" fill="#020202"/>
<path d="M773.7,1097.4 C771.1,1104.4 761.1,1127.7 758.2,1139.3 C755.4,1150.9 756.9,1162.5 756.6,1167.2" fill="none" stroke="#a0a0a0" stroke-width="7.5" stroke-linecap="round" opacity="0.85" filter="url(#gbl3)"/>
<circle cx="703.9" cy="1219.9" r="14.5" fill="#b4b4b4" opacity="0.63" filter="url(#gbl)"/>
<circle cx="677.5" cy="1170.3" r="7.5" fill="#b4b4b4" opacity="0.74" filter="url(#gbl)"/>
<circle cx="674.4" cy="1204.4" r="7" fill="#b4b4b4" opacity="0.64" filter="url(#gbl)"/>
<circle cx="745" cy="1092" r="6" fill="#b4b4b4" opacity="0.37" filter="url(#gbl)"/>
<rect x="670.7" y="1085.5" width="143" height="222.4" filter="url(#nzD)" opacity="0.55"/>
<path d="M773.7,1097.4 L758.2,1139.3 L756.6,1167.2" fill="none" stroke="#e81c24" stroke-width="1.6" stroke-linejoin="round"/>
</g>
<rect x="758.6" y="1299.2" width="52.4" height="6" fill="#fff"/>
<clipPath id="mg4"><rect x="848.1" y="1085.5" width="143" height="222.4"/></clipPath>
<g clip-path="url(#mg4)">
<rect x="848.1" y="1085.5" width="143" height="222.4" fill="#020202"/>
<path d="M944.3,1105.8 C943.0,1109.5 938.0,1121.1 936.5,1128 C935.0,1134.9 934.8,1138.9 935.6,1147 C936.4,1155.1 940.3,1171.6 941.2,1176.5" fill="none" stroke="#a0a0a0" stroke-width="7.5" stroke-linecap="round" opacity="0.85" filter="url(#gbl3)"/>
<circle cx="876" cy="1219.9" r="15" fill="#b4b4b4" opacity="0.63" filter="url(#gbl)"/>
<circle cx="851" cy="1176.5" r="7" fill="#b4b4b4" opacity="0.64" filter="url(#gbl)"/>
<circle cx="920" cy="1090" r="6" fill="#b4b4b4" opacity="0.22" filter="url(#gbl)"/>
<circle cx="984" cy="1168" r="5" fill="#b4b4b4" opacity="0.28" filter="url(#gbl)"/>
<rect x="848.1" y="1085.5" width="143" height="222.4" filter="url(#nzD)" opacity="0.55"/>
<path d="M944.3,1105.8 L936.5,1128 L935.6,1147 L941.2,1176.5" fill="none" stroke="#e81c24" stroke-width="1.6" stroke-linejoin="round"/>
</g>
<rect x="936.0" y="1299.2" width="52.4" height="6" fill="#fff"/>
<clipPath id="mg5"><rect x="996.1" y="1085.5" width="143" height="222.4"/></clipPath>
<g clip-path="url(#mg5)">
<rect x="996.1" y="1085.5" width="143" height="222.4" fill="#020202"/>
<path d="M1098.4,1123.1 C1096.5,1125.1 1089.5,1131.0 1087,1135 C1084.5,1139.0 1082.3,1140.1 1083.3,1147 C1084.3,1153.9 1091.5,1171.6 1093.2,1176.5" fill="none" stroke="#a0a0a0" stroke-width="7.5" stroke-linecap="round" opacity="0.85" filter="url(#gbl3)"/>
<circle cx="1015.6" cy="1216.8" r="15" fill="#b4b4b4" opacity="0.57" filter="url(#gbl)"/>
<circle cx="998" cy="1168" r="5" fill="#b4b4b4" opacity="0.46" filter="url(#gbl)"/>
<circle cx="1028" cy="1145" r="6" fill="#b4b4b4" opacity="0.22" filter="url(#gbl)"/>
<rect x="996.1" y="1085.5" width="143" height="222.4" filter="url(#nzD)" opacity="0.55"/>
<path d="M1098.4,1123.1 L1087,1135 L1083.3,1147 L1093.2,1176.5" fill="none" stroke="#e81c24" stroke-width="1.6" stroke-linejoin="round"/>
</g>
<rect x="1084.0" y="1299.2" width="52.4" height="6" fill="#fff"/>
<text x="54.2" y="1118.5" font-size="32" fill="#fff">0<tspan dx="4.5">s</tspan></text>
<text x="201.3" y="1118.5" font-size="32" fill="#fff">100<tspan dx="4.5">s</tspan></text>
<text x="376.3" y="1118.5" font-size="32" fill="#fff">108<tspan dx="4.5">s</tspan></text>
<text x="524.5" y="1118.5" font-size="32" fill="#fff">115<tspan dx="4.5">s</tspan></text>
<text x="672.7" y="1118.5" font-size="32" fill="#fff">123<tspan dx="4.5">s</tspan></text>
<text x="854.0" y="1118.5" font-size="32" fill="#fff">165<tspan dx="4.5">s</tspan></text>
<text x="998.9" y="1118.5" font-size="32" fill="#fff">248<tspan dx="4.5">s</tspan></text>
<rect x="1373.3" y="1467.5" width="101.3" height="242.5" fill="#b198e4"/>
<rect x="1518.5" y="1228.9" width="101.3" height="481.1" fill="#fdbb4c"/>
<rect x="1664.0" y="1382.8" width="101.0" height="327.2" fill="#c96163"/>
<line x1="1329.0" y1="1325.1" x2="1809.2" y2="1325.1" stroke="#555" stroke-width="1.5" stroke-dasharray="6.5 3"/>
<g stroke="#000" stroke-width="4.4">
<line x1="1424.2" y1="1509.9" x2="1424.2" y2="1424.4"/>
<line x1="1418.2" y1="1509.9" x2="1430.2" y2="1509.9" stroke-width="3"/>
<line x1="1418.2" y1="1424.4" x2="1430.2" y2="1424.4" stroke-width="3"/>
<line x1="1569.3" y1="1325.1" x2="1569.3" y2="1132.7"/>
<line x1="1563.3" y1="1325.1" x2="1575.3" y2="1325.1" stroke-width="3"/>
<line x1="1563.3" y1="1132.7" x2="1575.3" y2="1132.7" stroke-width="3"/>
<line x1="1714.5" y1="1440.6" x2="1714.5" y2="1325.1"/>
<line x1="1708.5" y1="1440.6" x2="1720.5" y2="1440.6" stroke-width="3"/>
<line x1="1708.5" y1="1325.1" x2="1720.5" y2="1325.1" stroke-width="3"/>
</g>
<text x="1424.20" y="1414.50" font-size="46" text-anchor="middle" fill="#000" font-weight="bold">*</text>
<text x="1569.30" y="1122.00" font-size="46" text-anchor="middle" fill="#000" font-weight="bold">*</text>
<text x="1714.50" y="1313.00" font-size="46" text-anchor="middle" fill="#000" font-weight="bold">*</text>
<rect x="1329.00" y="1075.20" width="480.20" height="634.80" fill="none" stroke="#000" stroke-width="1.6"/>
<g stroke="#000" stroke-width="1.5">
<line x1="1322.5" y1="1710.0" x2="1329.0" y2="1710.0"/>
<line x1="1322.5" y1="1517.5" x2="1329.0" y2="1517.5"/>
<line x1="1322.5" y1="1325.1" x2="1329.0" y2="1325.1"/>
<line x1="1322.5" y1="1132.7" x2="1329.0" y2="1132.7"/>
<line x1="1424.2" y1="1710.0" x2="1424.2" y2="1716.5"/>
<line x1="1569.3" y1="1710.0" x2="1569.3" y2="1716.5"/>
<line x1="1714.5" y1="1710.0" x2="1714.5" y2="1716.5"/>
</g>
<text x="1317.50" y="1720.40" font-size="27.5" text-anchor="end" fill="#000">0.0</text>
<text x="1317.50" y="1527.95" font-size="27.5" text-anchor="end" fill="#000">0.5</text>
<text x="1317.50" y="1335.50" font-size="27.5" text-anchor="end" fill="#000">1.0</text>
<text x="1317.50" y="1143.05" font-size="27.5" text-anchor="end" fill="#000">1.5</text>
<text x="1424.20" y="1749.50" font-size="35" text-anchor="middle" fill="#000">NOC</text>
<text x="1569.30" y="1749.50" font-size="35" text-anchor="middle" fill="#000">LAT</text>
<text x="1714.5" y="1749.5" font-size="35" text-anchor="middle">VIM<tspan dy="-13" font-size="24.5">−</tspan></text>
<text transform="translate(1258.5 1395) rotate(-90)" font-size="38" text-anchor="middle">f / f<tspan dy="5.5" font-size="26.6">CTRL</tspan></text>
</svg></body></html>
